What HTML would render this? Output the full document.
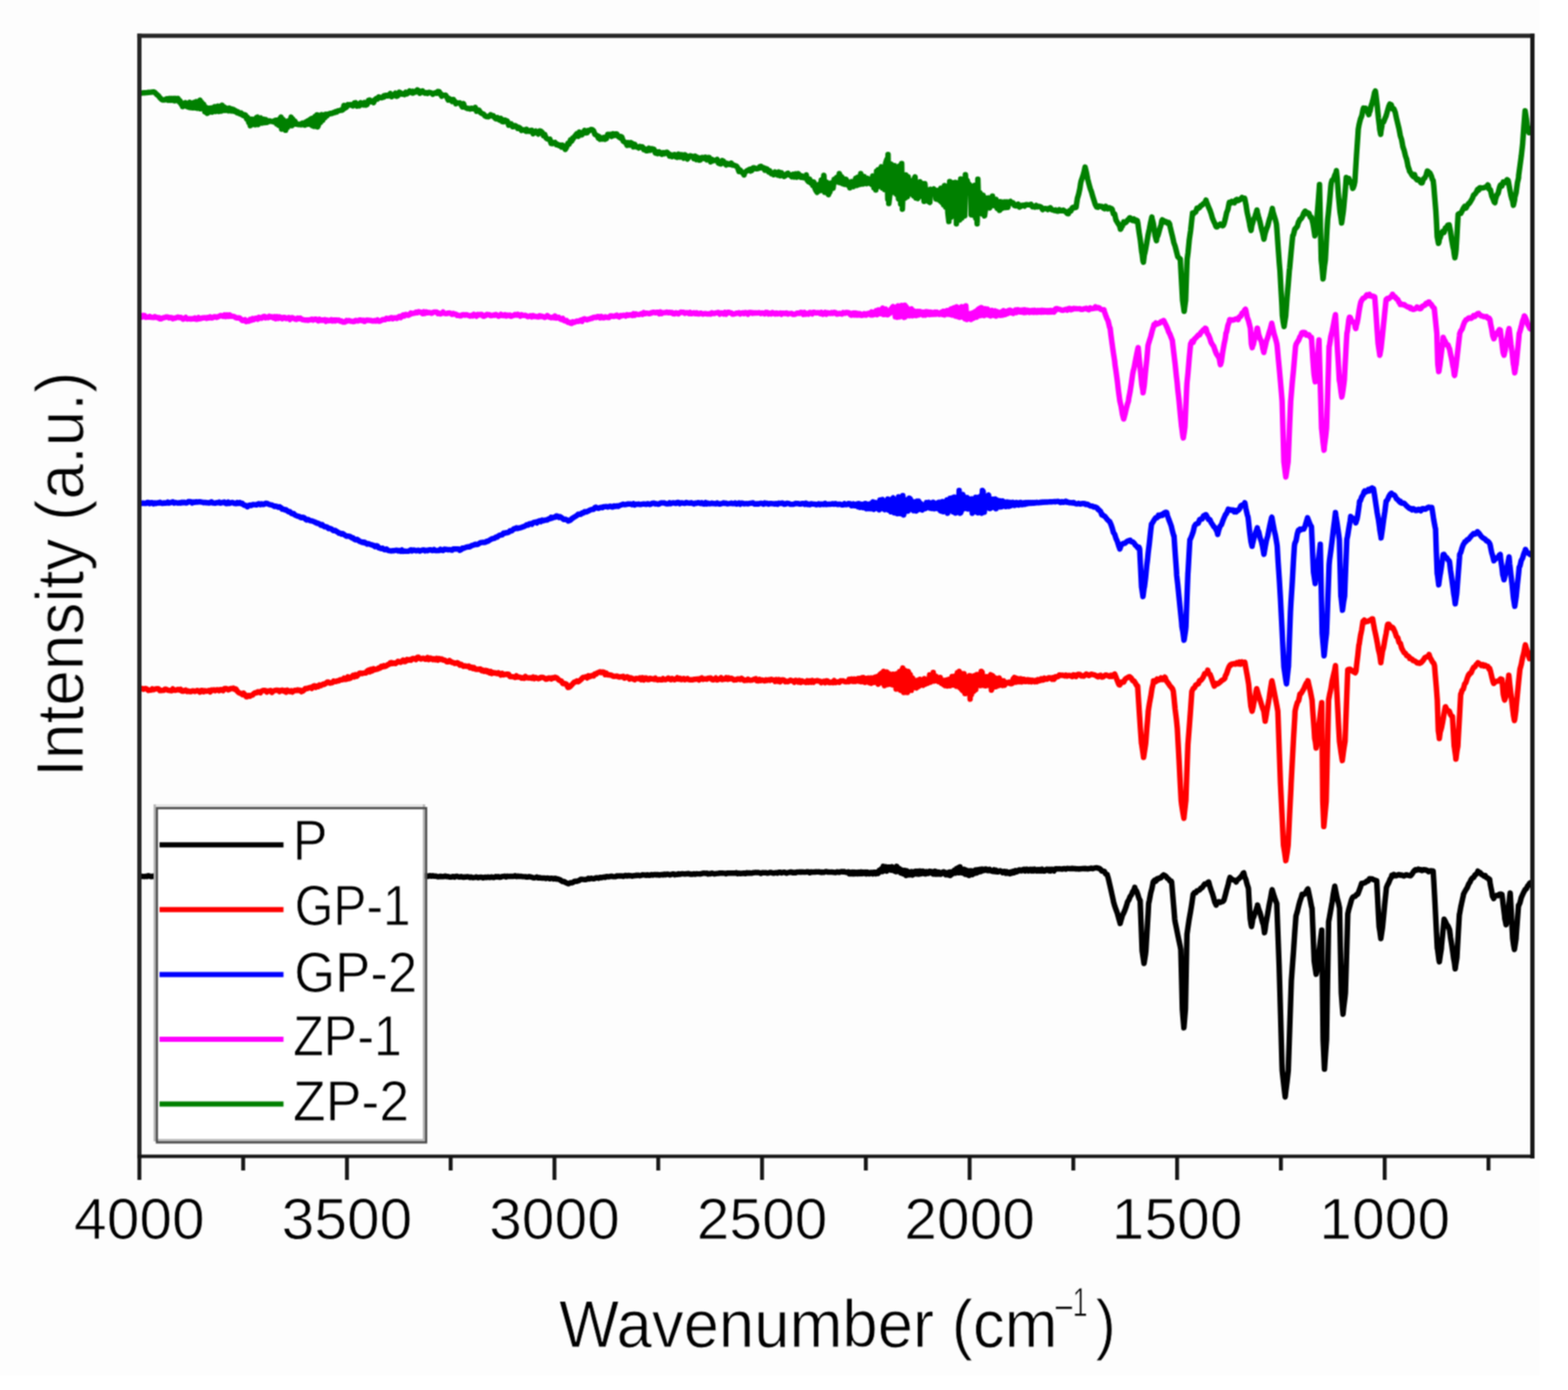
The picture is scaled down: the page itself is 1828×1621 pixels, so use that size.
<!DOCTYPE html>
<html><head><meta charset="utf-8"><title>FTIR spectra</title>
<style>
html,body{margin:0;padding:0;background:#fff;}
body{width:1828px;height:1621px;overflow:hidden;}
svg{display:block;}
</style></head>
<body>
<svg width="1828" height="1621" viewBox="0 0 1828 1621">
<rect x="0" y="0" width="1828" height="1621" fill="#ffffff"/>
<rect x="0" y="0" width="1795" height="1604" fill="#fdfdfd"/>
<defs><filter id="soft" color-interpolation-filters="sRGB" x="0" y="0" width="1828" height="1621" filterUnits="userSpaceOnUse"><feConvolveMatrix order="3" kernelMatrix="1 2 1 2 4 2 1 2 1" divisor="16" edgeMode="duplicate"/></filter><clipPath id="plot"><rect x="162.5" y="41.7" width="1624.0" height="1306.8999999999999"/></clipPath></defs>
<g filter="url(#soft)">
<g clip-path="url(#plot)" fill="none" stroke-width="6.4" stroke-linejoin="round" stroke-linecap="butt">
<path d="M162.5 108.8L163.8 108.7L165.0 108.6L166.2 108.4L167.5 108.3L168.8 108.2L170.0 108.1L171.2 108.0L172.5 107.8L173.8 107.7L175.0 107.6L176.2 107.5L177.5 107.3L178.8 107.1L180.0 107.5L181.2 108.5L182.5 110.0L183.8 110.9L185.0 112.1L186.2 113.7L187.5 115.0L188.8 116.3L190.0 116.5L191.2 116.6L192.5 116.4L193.8 115.4L195.0 115.2L196.2 116.9L197.5 115.0L198.8 116.9L200.0 114.8L201.2 116.8L202.5 114.8L203.8 117.5L205.0 114.9L206.2 116.8L207.5 114.9L208.8 118.7L210.0 117.7L211.2 121.7L212.1 120.2L212.9 124.3L213.8 123.5L215.0 123.2L216.2 119.8L217.5 124.0L218.8 124.6L220.0 125.1L221.2 119.3L222.5 125.5L223.8 125.3L225.0 125.8L226.2 119.6L227.5 125.8L228.8 118.6L230.0 126.3L231.2 125.8L232.5 117.3L233.1 116.9L233.9 126.9L235.0 119.2L236.2 126.7L237.5 121.7L238.8 130.4L240.0 125.1L240.9 126.1L241.8 132.2L242.5 126.1L243.8 126.5L245.0 130.6L246.2 125.9L247.5 130.7L248.8 129.7L250.0 124.4L251.2 130.1L252.5 124.9L253.8 123.9L255.0 130.0L256.2 129.7L257.5 123.8L258.1 129.6L258.9 122.8L260.0 128.9L261.2 124.5L262.5 128.8L263.8 126.1L265.0 128.8L266.2 129.2L267.5 126.1L268.8 129.3L270.0 127.1L271.2 129.5L272.5 128.0L273.8 130.0L275.0 129.4L276.2 131.3L277.5 130.6L278.8 132.3L280.0 132.9L281.2 131.8L282.5 134.2L283.8 134.8L285.0 133.8L286.2 134.2L287.5 138.7L288.8 137.0L290.0 142.9L290.9 139.2L291.8 146.6L292.5 139.1L293.8 139.0L295.0 145.0L296.2 139.2L297.5 145.6L298.8 137.3L300.1 136.6L300.9 145.3L301.2 143.5L302.5 138.2L303.8 137.6L305.0 143.6L306.2 143.4L307.5 139.0L308.8 142.9L310.0 139.5L311.2 142.8L312.5 142.1L313.8 140.9L315.0 141.1L316.2 141.6L317.5 141.6L318.8 142.2L320.0 140.8L321.2 140.4L322.5 144.4L323.8 140.1L325.0 146.2L326.2 139.2L327.6 136.6L328.4 150.6L328.8 140.1L330.0 139.4L331.2 148.3L332.5 141.7L332.9 151.9L333.8 141.8L335.0 148.9L336.2 141.1L337.5 146.3L338.8 140.0L339.4 136.6L340.4 146.6L341.2 138.7L342.5 144.9L343.8 141.3L345.0 144.8L346.2 144.3L347.5 145.4L348.8 145.3L350.0 144.7L351.2 145.5L352.5 143.7L353.8 145.4L355.0 145.9L356.2 142.5L357.5 145.1L358.8 141.1L360.0 144.6L361.2 139.7L362.5 138.6L363.8 146.6L365.0 137.7L366.2 147.4L367.5 135.7L368.8 147.4L369.6 133.9L370.4 148.0L371.2 145.8L372.5 134.9L373.8 142.8L375.0 133.6L376.2 140.4L377.5 133.9L378.8 137.3L380.0 133.3L381.2 135.1L382.5 132.9L383.8 133.1L385.0 132.1L386.2 132.5L387.5 132.1L388.8 131.2L390.0 131.3L391.2 130.2L392.5 130.6L393.8 129.4L395.0 129.1L396.2 128.8L397.5 128.4L398.8 128.5L400.0 127.6L401.0 122.9L402.5 125.8L404.0 124.9L405.5 122.0L407.0 122.6L408.5 121.9L408.7 122.1L410.0 122.8L411.5 123.5L413.0 120.2L414.5 119.8L416.0 123.7L417.5 121.8L419.0 123.4L420.5 119.7L420.8 122.1L422.0 121.5L423.5 122.3L425.0 119.5L426.5 122.5L428.0 121.8L429.5 117.1L431.0 116.7L432.5 118.7L434.0 118.0L435.5 119.6L437.0 116.4L438.5 115.0L440.0 115.5L441.5 113.1L443.0 113.5L444.5 114.0L446.0 113.7L447.5 111.9L447.8 113.1L449.0 111.5L450.5 111.2L452.0 112.0L453.5 110.8L455.0 109.2L456.5 112.8L458.0 111.1L459.5 111.2L461.0 108.7L462.0 110.0L462.5 112.3L464.0 111.4L465.5 107.5L467.0 108.3L468.5 109.9L470.0 109.5L471.5 110.3L473.0 107.6L474.5 109.3L476.0 108.2L477.5 106.2L479.0 107.3L480.5 108.4L480.9 106.5L482.0 108.3L483.5 106.8L485.0 107.3L486.5 104.8L488.0 105.9L489.5 108.7L491.0 107.0L492.5 106.0L494.0 108.0L495.5 108.8L497.0 108.0L498.5 108.9L500.0 107.6L501.5 108.0L503.0 108.5L504.5 109.9L506.0 108.7L507.5 108.2L509.0 108.8L510.5 106.7L512.0 106.9L513.5 110.1L514.0 109.2L515.0 112.1L516.5 111.1L518.0 111.1L519.5 110.9L521.0 113.4L522.5 116.6L523.0 114.6L524.0 116.4L525.5 116.0L527.0 118.3L528.5 116.0L530.0 118.1L531.5 121.0L533.0 119.9L534.5 120.1L536.0 120.0L537.5 122.0L539.0 124.7L540.5 120.9L541.1 123.6L542.0 125.2L543.5 125.9L545.0 126.6L546.5 126.4L548.0 127.2L549.5 126.2L551.0 126.9L552.5 126.7L554.0 125.3L555.5 129.7L556.1 128.1L557.0 129.1L558.5 128.5L560.0 131.1L561.5 132.2L563.0 132.7L564.5 133.8L565.2 135.1L566.0 135.4L567.5 136.0L569.0 136.2L570.5 135.6L572.0 133.8L573.5 135.0L575.0 134.9L576.5 137.1L578.0 138.6L579.5 138.5L580.2 137.2L581.0 139.1L582.5 140.1L584.0 138.2L585.5 141.9L587.0 142.0L588.5 140.0L590.0 140.6L591.5 141.4L593.0 145.9L594.5 144.3L596.0 144.5L597.5 147.8L598.3 147.7L599.0 147.2L600.5 146.4L602.0 147.4L603.5 149.7L605.0 148.5L606.5 149.6L608.0 152.2L609.5 151.5L611.0 151.4L612.5 152.7L613.3 153.1L614.0 150.9L615.5 152.8L617.0 153.2L618.5 152.2L620.0 152.0L621.5 156.0L623.0 154.3L624.5 153.0L626.0 155.1L627.5 156.3L629.0 152.6L630.5 152.8L631.3 155.2L632.0 154.1L633.5 158.2L635.0 156.8L636.5 160.7L638.0 161.9L639.5 162.5L641.0 162.3L642.5 167.2L643.4 165.7L644.0 167.4L645.5 166.8L647.0 166.1L648.5 168.8L650.0 168.3L651.5 169.8L653.0 169.3L654.5 171.5L656.0 169.5L657.5 171.3L658.4 172.7L659.0 174.2L660.5 171.8L662.0 167.2L663.5 168.0L665.0 163.4L666.5 164.6L667.5 161.2L668.0 162.1L669.5 159.6L671.0 157.9L672.5 155.8L674.0 159.0L675.5 154.1L676.0 156.0L677.0 157.1L678.5 157.2L680.0 154.7L681.5 152.2L683.0 155.0L684.5 154.9L685.5 152.2L686.0 153.1L687.5 151.9L689.0 151.0L690.0 151.4L690.5 151.3L692.0 152.5L693.5 156.7L695.0 157.5L696.5 158.3L697.5 161.0L698.0 159.2L699.5 162.3L701.0 160.9L702.3 162.2L702.5 162.1L704.0 160.5L705.5 162.4L707.0 161.7L708.5 156.7L710.0 156.9L711.5 156.7L713.0 159.1L714.5 156.0L716.0 157.9L717.5 156.2L719.0 156.1L720.5 158.9L722.0 160.1L723.5 161.1L723.7 159.1L725.0 160.0L726.5 164.5L728.0 165.4L729.5 166.3L729.8 166.8L731.0 169.5L732.5 166.3L734.0 169.1L735.5 166.4L737.0 167.3L738.5 171.3L740.0 168.3L741.5 171.4L743.0 171.1L744.5 172.6L746.0 170.8L747.5 171.1L748.0 172.0L749.0 171.3L750.5 174.5L752.0 173.7L753.5 175.8L755.0 175.9L756.5 172.8L758.0 175.2L759.5 173.5L761.0 173.6L762.5 174.2L764.0 178.5L765.5 178.6L766.6 177.5L767.0 179.2L768.5 177.1L770.0 178.7L771.5 179.8L773.0 178.1L774.5 179.3L776.0 177.9L777.5 177.5L779.0 178.7L780.5 182.0L782.0 180.7L783.5 182.7L785.0 180.8L786.5 180.2L788.0 182.9L789.5 183.4L791.0 179.7L791.1 182.1L792.5 183.1L794.0 180.4L795.5 180.7L797.0 184.5L798.5 180.6L800.0 181.7L801.5 185.5L803.0 182.9L804.5 181.6L806.0 182.0L807.5 182.5L809.0 185.0L810.5 182.1L812.0 186.1L813.5 183.7L815.0 186.7L816.5 186.6L818.0 183.7L819.5 183.7L821.0 184.9L821.7 185.1L822.5 183.3L824.0 186.3L825.5 183.7L827.0 183.8L828.5 188.8L830.0 185.8L831.5 187.5L833.0 187.1L834.5 186.8L836.0 185.9L837.5 190.3L839.0 190.8L840.5 191.2L842.0 187.3L843.5 188.1L845.0 190.4L846.5 192.4L848.0 190.6L849.5 191.6L851.0 191.8L852.4 191.3L852.5 190.2L854.0 192.6L855.5 192.5L857.0 193.3L858.5 193.6L860.0 195.6L861.5 200.0L863.0 198.5L864.5 200.5L866.0 201.5L867.5 204.0L867.7 202.0L869.0 200.7L870.5 199.4L872.0 198.6L873.5 197.6L875.0 199.3L876.0 197.0L876.5 198.8L878.0 195.8L879.5 195.8L881.0 196.7L882.5 196.7L884.0 196.6L885.5 194.7L886.1 195.9L887.0 194.0L888.5 195.6L890.0 195.4L891.5 198.3L893.0 196.6L894.5 197.2L896.0 200.5L897.5 199.4L899.0 202.4L900.5 201.6L901.4 202.0L902.0 203.8L903.5 200.6L905.0 202.4L906.5 204.0L908.0 200.7L909.5 205.0L911.0 201.5L912.5 204.5L914.0 205.7L915.5 205.1L917.0 202.8L918.5 202.0L920.0 204.0L921.5 204.2L923.0 206.2L924.5 203.3L926.0 206.3L927.5 202.8L929.0 206.6L930.5 202.5L932.0 204.0L933.5 206.9L935.0 206.6L935.1 205.1L936.5 207.3L938.0 207.3L939.5 207.1L940.0 204.0L941.2 210.3L942.5 211.7L943.8 208.9L945.0 213.3L946.2 211.7L947.5 216.3L948.8 212.4L950.0 219.4L951.2 222.1L952.6 224.3L953.5 215.5L955.0 215.0L956.2 222.3L957.5 210.0L958.8 210.3L960.0 208.6L960.5 204.4L961.5 224.3L962.5 220.4L963.8 212.4L965.0 225.8L965.9 226.9L966.8 215.5L967.5 224.2L968.8 213.5L970.0 213.7L971.2 219.6L972.5 209.2L973.8 210.2L975.0 207.2L976.2 206.5L977.5 212.5L978.5 202.4L978.8 203.1L980.0 213.1L981.2 206.1L982.5 214.3L983.8 208.7L985.0 215.1L986.2 209.1L987.5 211.6L988.8 216.2L990.0 213.6L990.8 219.0L991.6 212.9L992.5 212.0L993.8 216.5L995.0 217.5L996.2 214.7L997.5 208.0L998.8 216.3L1000.0 206.6L1001.2 215.2L1002.5 215.1L1003.5 202.4L1003.8 204.7L1005.0 214.3L1006.2 214.6L1007.5 206.0L1008.8 213.3L1010.0 214.1L1011.2 207.9L1012.5 213.5L1013.0 208.9L1014.0 213.8L1015.0 209.1L1016.2 215.0L1017.5 205.3L1018.8 218.9L1020.0 207.1L1021.0 221.6L1021.9 199.8L1022.5 218.2L1023.8 198.0L1025.0 216.4L1026.2 198.9L1027.5 194.5L1028.5 219.0L1028.8 197.0L1030.0 217.1L1031.2 221.0L1032.5 190.3L1033.8 186.1L1035.0 232.5L1035.3 180.1L1036.2 237.4L1037.5 226.3L1038.8 191.4L1040.0 219.7L1041.2 198.1L1042.0 224.3L1042.8 193.2L1043.8 222.7L1045.0 226.5L1046.2 197.8L1047.5 231.8L1048.8 193.4L1050.0 238.0L1051.2 190.6L1052.0 244.0L1052.5 230.7L1053.8 206.9L1055.0 231.1L1056.2 204.0L1057.5 208.6L1057.8 229.5L1058.7 206.3L1060.0 226.2L1061.2 212.2L1062.5 211.0L1063.8 226.2L1065.0 228.4L1066.2 207.5L1066.8 206.3L1067.8 230.8L1068.8 227.5L1070.0 231.6L1071.2 214.8L1072.5 212.0L1073.8 228.9L1075.0 217.1L1076.2 214.3L1077.3 234.8L1078.2 214.2L1078.8 219.7L1080.0 231.8L1081.2 221.8L1082.5 234.9L1084.0 236.1L1084.8 220.8L1086.2 221.7L1087.5 222.2L1088.8 220.5L1090.0 222.3L1091.2 232.2L1092.5 232.4L1093.8 221.9L1095.0 232.9L1096.2 234.4L1097.0 219.5L1098.0 236.1L1098.8 219.8L1100.0 238.9L1101.2 216.5L1102.5 241.5L1103.8 218.0L1105.0 248.1L1106.2 258.4L1107.2 211.6L1107.5 246.4L1108.8 253.3L1110.0 249.5L1111.2 213.2L1112.5 247.1L1113.8 212.8L1114.2 212.9L1115.0 261.0L1116.2 213.4L1117.5 214.0L1118.8 256.5L1120.0 208.8L1121.2 254.3L1122.5 212.2L1123.8 245.2L1124.7 251.8L1125.5 203.7L1126.2 213.9L1127.5 210.3L1128.8 216.3L1130.0 215.0L1131.2 216.8L1132.2 250.5L1132.5 226.7L1133.8 220.7L1135.0 250.8L1136.2 216.2L1137.5 254.5L1138.8 253.6L1139.2 261.0L1140.0 208.9L1141.2 249.2L1142.5 224.8L1143.8 228.1L1145.0 249.6L1146.2 227.8L1147.0 230.0L1147.8 251.8L1148.8 244.4L1150.0 231.1L1151.2 232.5L1152.5 230.8L1153.8 242.5L1155.0 231.7L1156.2 240.0L1157.0 228.6L1157.5 238.6L1158.8 232.1L1160.0 240.1L1161.2 232.5L1162.5 243.1L1163.8 243.7L1165.0 236.3L1165.3 245.3L1166.2 235.2L1167.5 243.5L1168.8 235.7L1170.0 242.3L1171.2 235.4L1172.5 242.1L1173.8 235.4L1175.0 241.8L1176.2 236.6L1176.5 236.3L1178.0 235.0L1179.5 236.8L1181.0 236.5L1182.5 239.5L1184.0 240.1L1185.0 240.0L1185.5 239.0L1187.0 238.0L1188.5 241.5L1190.0 240.7L1191.5 239.5L1193.0 239.3L1194.5 240.3L1195.5 238.8L1196.0 238.7L1197.5 238.8L1199.0 238.9L1200.5 238.9L1202.0 238.3L1203.5 241.1L1205.0 240.5L1206.5 241.4L1208.0 239.7L1209.5 241.2L1211.0 240.7L1212.5 240.9L1214.0 241.8L1215.5 244.4L1217.0 243.4L1218.5 243.2L1220.0 243.4L1221.5 244.4L1223.0 243.1L1224.5 242.3L1226.0 244.6L1227.5 244.7L1229.0 245.5L1230.5 244.8L1232.0 246.0L1233.5 246.3L1235.0 244.6L1236.5 245.8L1238.0 245.9L1239.5 245.1L1241.0 246.0L1241.5 246.4L1242.5 246.9L1244.0 248.8L1245.4 247.6L1245.5 249.2L1247.0 245.6L1248.5 246.0L1250.0 242.5L1251.5 241.6L1253.0 242.3L1254.3 241.3L1254.5 241.8L1256.0 231.5L1257.5 226.5L1259.0 219.5L1259.7 214.5L1260.5 210.8L1262.0 206.7L1263.5 201.8L1265.0 194.8L1266.5 200.9L1268.0 208.7L1269.5 214.5L1271.0 219.9L1272.5 223.8L1274.0 229.3L1275.5 234.0L1277.0 238.7L1278.5 241.3L1280.0 241.7L1281.5 240.3L1283.0 240.8L1284.5 240.8L1286.0 242.4L1287.5 243.3L1289.0 240.6L1290.5 243.3L1292.0 243.6L1293.5 242.3L1295.0 243.1L1295.5 243.1L1296.5 243.9L1298.0 249.3L1299.5 249.7L1301.0 256.6L1302.5 259.1L1304.0 261.5L1304.7 262.5L1305.5 264.1L1306.2 267.3L1307.0 266.4L1307.7 262.5L1308.5 263.6L1310.0 258.9L1311.5 260.1L1313.0 258.9L1314.5 256.8L1316.0 255.6L1317.0 253.9L1317.5 253.9L1319.0 256.4L1320.5 257.2L1322.0 255.4L1323.5 257.7L1325.0 256.8L1325.9 257.4L1326.5 260.2L1328.0 271.1L1329.5 280.6L1331.0 294.0L1331.4 295.3L1332.5 304.3L1333.0 305.8L1334.0 297.6L1334.6 295.3L1335.5 291.0L1337.0 282.6L1338.5 273.8L1340.0 266.9L1341.5 259.1L1342.9 253.0L1343.0 254.6L1344.5 260.3L1346.0 269.8L1346.7 275.2L1347.5 277.9L1348.2 280.7L1349.0 275.8L1349.7 275.2L1350.5 272.7L1352.0 267.1L1353.5 262.4L1354.5 257.4L1355.0 256.4L1356.5 257.3L1358.0 259.0L1359.5 258.5L1361.0 260.3L1362.5 259.6L1363.5 261.0L1364.0 263.7L1365.5 270.2L1367.0 276.3L1368.5 283.0L1370.0 287.3L1371.5 293.1L1372.4 296.8L1373.0 299.1L1374.5 300.9L1376.0 302.0L1377.5 329.7L1378.7 350.8L1379.0 352.5L1380.5 363.0L1382.0 351.7L1382.2 350.8L1383.5 314.5L1384.0 302.2L1385.0 294.9L1386.5 279.4L1388.0 269.1L1389.5 255.5L1390.3 248.5L1391.0 249.8L1392.5 247.7L1394.0 247.3L1395.5 242.7L1397.0 242.9L1398.5 242.0L1400.0 239.7L1401.5 239.2L1403.0 237.4L1404.5 236.8L1406.0 233.4L1406.4 235.1L1407.5 237.7L1409.0 241.6L1410.5 244.9L1412.0 249.2L1413.5 254.6L1415.0 258.1L1416.5 261.2L1417.4 263.5L1418.0 264.5L1418.9 264.6L1419.5 263.7L1420.4 263.5L1421.0 262.3L1422.5 261.3L1424.0 262.2L1425.5 263.3L1426.1 262.8L1427.0 260.9L1428.5 255.1L1430.0 248.1L1431.5 244.4L1433.0 236.6L1433.2 236.0L1434.5 237.0L1436.0 234.9L1437.5 235.9L1439.0 236.5L1440.5 233.4L1442.0 232.5L1443.5 233.9L1445.0 233.2L1446.5 232.1L1448.0 230.3L1449.5 231.5L1451.0 231.2L1451.1 231.5L1452.5 238.3L1454.0 247.9L1455.5 254.5L1456.8 260.9L1457.0 262.8L1458.3 268.2L1458.5 268.8L1459.8 260.9L1460.0 261.3L1461.5 256.0L1463.0 252.7L1464.5 248.0L1465.4 244.9L1466.0 247.9L1467.5 254.0L1469.0 259.2L1470.5 266.2L1472.0 271.7L1473.5 278.9L1475.0 271.7L1476.5 267.1L1478.0 263.1L1479.5 257.3L1481.0 252.4L1482.5 246.9L1483.3 243.1L1484.0 247.0L1485.5 251.9L1487.0 256.6L1488.1 261.4L1488.5 265.8L1490.0 287.4L1491.5 307.9L1492.2 315.7L1493.0 330.5L1494.5 356.4L1495.0 367.8L1496.0 375.5L1497.0 380.8L1497.5 377.4L1499.0 367.8L1499.0 367.1L1500.5 346.5L1502.0 329.6L1503.1 315.7L1503.5 312.6L1505.0 296.1L1506.5 280.5L1507.1 275.0L1508.0 273.5L1509.5 267.3L1511.0 265.7L1512.5 263.8L1513.9 258.7L1514.0 259.3L1515.5 255.9L1517.0 254.8L1518.5 252.3L1520.0 248.5L1521.5 246.2L1522.1 246.5L1523.0 249.0L1524.5 248.0L1526.0 248.8L1527.5 253.3L1528.8 253.3L1529.0 254.2L1530.5 260.0L1531.1 263.1L1532.0 269.0L1532.9 275.0L1533.5 271.9L1534.7 263.1L1535.0 257.6L1536.5 239.7L1538.0 220.1L1538.3 215.3L1539.5 268.0L1540.3 303.2L1541.0 309.3L1542.4 325.2L1542.5 324.8L1544.0 311.1L1545.1 303.2L1545.5 296.5L1547.0 268.7L1547.8 256.0L1548.5 250.0L1550.0 234.9L1551.5 217.3L1551.9 213.9L1553.0 210.1L1554.5 209.4L1556.0 204.7L1557.5 201.6L1558.0 199.0L1559.0 208.6L1560.5 229.2L1562.0 245.2L1562.3 247.8L1563.5 255.3L1564.1 260.0L1565.0 253.7L1565.9 247.8L1566.5 242.5L1568.0 226.0L1569.5 207.0L1569.6 207.1L1571.0 208.8L1572.5 208.3L1574.0 212.8L1575.3 212.1L1575.5 212.4L1577.0 219.7L1577.4 219.5L1578.5 216.5L1579.5 212.1L1580.0 204.4L1581.5 180.1L1583.0 158.2L1583.5 150.5L1584.5 145.0L1586.0 139.0L1587.5 135.3L1589.0 127.9L1589.6 126.0L1590.5 127.6L1592.0 126.5L1593.5 129.4L1594.3 129.1L1595.0 132.1L1595.8 133.7L1596.5 130.8L1597.3 129.1L1598.0 124.9L1599.5 120.4L1601.0 115.1L1602.5 107.9L1603.4 106.1L1604.0 110.0L1605.5 122.5L1607.0 137.6L1608.1 146.6L1608.5 150.9L1609.6 156.7L1610.0 152.9L1611.1 146.6L1611.5 143.7L1613.0 142.2L1614.5 138.6L1616.0 135.0L1617.5 129.5L1619.0 124.3L1620.3 121.4L1620.5 123.1L1622.0 122.4L1623.5 127.0L1625.0 126.9L1626.4 130.6L1626.5 130.7L1628.0 137.8L1629.5 144.1L1631.0 150.1L1632.5 158.2L1634.0 162.9L1635.5 171.1L1637.0 175.5L1638.5 181.7L1640.0 186.1L1641.5 193.9L1643.0 198.1L1643.2 199.6L1644.5 201.3L1646.0 204.0L1647.5 205.8L1649.0 203.5L1650.5 208.0L1652.0 209.8L1653.5 209.1L1655.0 210.8L1656.5 213.1L1657.0 213.3L1658.0 213.2L1659.5 208.5L1661.0 207.7L1662.5 204.5L1664.0 199.5L1664.7 199.6L1665.5 202.7L1667.0 201.7L1668.5 204.8L1670.0 209.6L1670.8 210.3L1671.5 216.5L1673.0 234.8L1673.9 245.5L1674.5 255.5L1675.5 276.1L1676.0 278.5L1677.0 283.8L1677.5 282.6L1678.5 276.1L1679.0 277.1L1680.5 271.7L1682.0 269.9L1683.5 271.1L1685.0 266.0L1686.5 265.0L1688.0 262.4L1689.2 262.4L1689.5 262.3L1691.0 269.9L1692.5 280.2L1694.0 288.4L1694.6 290.5L1695.5 297.3L1696.1 300.6L1697.0 296.0L1697.6 290.4L1698.5 275.5L1699.9 250.1L1700.0 249.6L1701.5 249.0L1703.0 248.9L1704.5 246.1L1706.0 243.0L1707.5 240.7L1709.0 242.7L1710.5 239.9L1712.0 237.4L1712.2 237.8L1713.5 236.3L1715.0 233.8L1716.5 231.4L1718.0 227.3L1719.5 226.3L1721.0 224.3L1722.5 221.1L1724.0 221.6L1724.4 219.5L1725.5 218.9L1727.0 219.4L1728.5 219.2L1730.0 218.9L1731.5 218.3L1733.0 218.0L1734.5 215.6L1735.1 216.4L1736.0 220.6L1737.5 221.2L1739.0 228.2L1740.5 231.8L1742.0 235.6L1742.8 236.3L1743.5 232.2L1745.0 227.5L1746.5 225.5L1748.0 219.2L1748.9 216.4L1749.5 215.5L1751.0 216.9L1752.5 212.2L1754.0 213.1L1755.5 211.8L1757.0 209.5L1758.1 210.3L1758.5 211.8L1760.0 220.3L1761.5 228.2L1762.8 233.0L1763.0 231.9L1764.3 239.4L1764.5 238.6L1765.8 233.0L1766.0 230.2L1767.5 224.6L1769.0 213.4L1770.4 207.2L1770.5 204.5L1772.0 193.4L1773.5 182.3L1775.0 168.9L1776.5 148.3L1778.0 129.1L1779.5 138.4L1781.0 151.9L1781.1 151.4L1782.5 154.7L1782.6 153.6L1784.0 153.0L1784.1 151.4L1785.5 149.6L1786.0 150.0" stroke="#008000"/>
<path d="M162.5 368.5L164.0 369.7L165.5 369.8L167.0 367.8L168.5 368.0L170.0 370.0L171.5 369.9L173.0 369.9L174.5 369.1L176.0 370.0L177.5 370.1L179.0 370.2L180.5 369.3L182.0 370.1L183.5 370.2L185.0 371.1L185.6 370.6L186.5 371.8L188.0 371.7L189.5 370.8L191.0 370.5L192.5 370.1L194.0 369.6L195.5 369.6L197.0 370.7L198.5 370.3L200.0 370.5L201.5 371.7L203.0 370.9L204.5 371.0L206.0 370.2L207.5 369.7L209.0 370.5L210.5 370.1L212.0 371.0L213.5 372.2L215.0 371.4L216.5 370.2L218.0 372.0L219.5 371.8L221.0 371.6L222.5 372.1L224.0 371.7L225.5 371.8L227.0 370.8L228.5 372.3L230.0 372.3L231.5 370.4L231.6 371.2L233.0 371.7L234.5 371.4L236.0 370.7L237.5 370.7L239.0 370.5L240.5 371.3L242.0 370.2L243.5 370.8L245.0 369.5L246.5 370.7L248.0 370.6L249.5 369.4L251.0 369.5L252.5 370.2L254.0 369.5L255.5 368.8L257.0 368.0L258.5 368.1L260.0 368.9L261.5 367.5L263.0 369.1L264.5 367.4L266.0 368.8L267.5 367.2L268.4 367.6L269.0 368.9L270.5 368.9L272.0 368.9L273.5 369.5L275.0 370.4L276.5 370.8L278.0 370.7L279.5 371.0L281.0 372.2L282.5 373.8L284.0 373.6L285.5 372.8L286.7 374.3L287.0 375.0L288.5 374.5L290.0 374.6L291.5 372.5L293.0 373.5L294.5 371.6L296.0 372.7L297.5 371.4L299.0 371.0L300.5 372.2L302.0 370.1L303.5 370.8L305.0 371.2L306.5 369.5L308.0 369.0L308.2 369.7L309.5 370.7L311.0 369.7L312.5 370.5L314.0 368.9L315.5 369.8L317.0 369.4L318.5 370.7L320.0 369.4L321.5 371.6L323.0 369.4L324.5 371.2L326.0 369.6L327.5 370.2L329.0 371.7L330.5 370.2L332.0 370.3L333.5 371.6L335.0 371.0L336.5 370.3L338.0 372.6L339.5 370.7L341.0 370.5L342.5 371.3L344.0 372.1L345.5 372.5L347.0 371.0L348.5 371.7L350.0 371.0L351.1 372.2L351.5 372.1L353.0 372.9L354.5 373.0L356.0 373.4L357.5 373.2L359.0 373.5L360.5 373.2L362.0 372.7L363.5 372.2L365.0 373.3L366.5 372.6L368.0 372.1L369.5 373.0L371.0 374.1L372.5 372.4L374.0 373.6L375.5 373.2L377.0 373.6L378.5 372.8L380.0 374.8L381.5 373.2L383.0 374.1L384.5 373.8L386.0 372.9L387.5 374.3L389.0 373.3L390.5 373.2L390.9 374.3L392.0 373.2L393.5 373.5L395.0 373.3L396.5 374.6L398.0 374.3L399.5 375.5L401.0 375.3L402.5 375.5L404.0 373.7L405.5 374.2L407.0 373.7L408.5 374.5L410.0 374.6L411.5 375.0L413.0 374.8L414.5 373.7L416.0 374.1L417.5 374.4L419.0 373.1L420.5 373.2L422.0 374.1L423.5 373.4L425.0 374.8L426.5 373.7L428.0 373.3L429.5 373.5L431.0 373.7L432.5 373.6L434.0 374.3L435.5 374.2L436.9 374.3L437.0 373.8L438.5 374.4L440.0 373.1L441.5 374.6L443.0 374.5L444.5 373.7L446.0 372.8L447.5 372.7L449.0 372.7L450.5 371.2L452.0 371.8L453.5 371.9L455.0 370.8L456.5 370.4L458.0 371.8L459.5 370.6L461.0 370.7L461.4 370.6L462.5 371.3L464.0 370.2L465.5 369.1L467.0 370.4L468.5 368.5L470.0 367.3L471.5 368.5L473.0 366.8L474.5 366.9L476.0 367.8L477.5 367.0L479.0 365.1L480.5 365.7L482.0 365.3L483.5 365.1L485.0 364.0L485.9 364.5L486.5 364.7L488.0 363.5L489.5 364.0L491.0 364.3L492.5 365.7L494.0 363.6L495.5 365.3L497.0 363.9L498.5 364.9L500.0 364.5L501.5 364.7L503.0 365.4L504.5 364.6L506.0 363.9L507.5 363.9L509.0 363.9L510.5 365.7L512.0 365.3L513.5 366.1L515.0 365.4L516.5 363.9L518.0 365.4L519.5 365.7L521.0 365.6L522.5 365.1L522.6 365.1L524.0 365.0L525.5 365.5L527.0 366.5L528.5 365.5L530.0 366.4L531.5 366.5L533.0 367.9L534.5 367.8L536.0 368.3L537.5 368.3L538.0 367.6L539.0 367.1L540.5 367.0L542.0 367.6L543.5 367.0L545.0 367.4L546.5 368.0L548.0 368.6L549.5 367.8L551.0 368.4L552.5 366.6L554.0 367.3L555.5 368.8L557.0 366.8L558.5 367.4L560.0 366.6L561.5 366.6L563.0 368.5L564.5 368.8L566.0 368.0L567.5 366.7L569.0 367.1L570.5 367.0L572.0 368.0L573.5 368.0L575.0 367.5L576.5 367.7L578.0 366.7L579.5 367.7L581.0 368.7L582.5 368.2L584.0 366.6L585.5 367.6L587.0 368.1L588.5 367.0L590.0 368.5L591.5 367.5L593.0 368.1L594.5 367.4L596.0 368.8L597.5 368.3L599.0 367.8L600.5 366.7L602.0 367.5L603.5 366.5L605.0 367.8L605.4 367.6L606.5 368.6L608.0 367.0L609.5 367.8L611.0 367.9L612.5 367.7L614.0 368.6L615.5 369.2L617.0 368.7L618.5 368.2L620.0 369.5L621.5 368.0L623.0 369.1L624.5 369.0L626.0 369.3L627.5 369.6L629.0 368.2L630.5 369.2L632.0 368.8L633.5 369.5L635.0 370.3L636.5 369.5L638.0 368.1L639.5 369.3L641.0 370.0L642.5 370.5L644.0 370.0L645.5 370.5L647.0 368.6L648.5 370.9L650.0 370.5L651.3 370.0L651.5 370.4L653.0 371.8L654.5 372.5L656.0 371.4L657.5 373.8L659.0 374.4L660.5 373.8L662.0 375.9L663.5 376.2L665.0 376.0L665.1 376.8L666.5 377.2L668.0 375.2L669.5 376.0L671.0 375.2L672.5 374.4L674.0 374.8L675.5 374.2L677.0 373.3L678.5 374.7L680.0 372.2L681.5 371.7L683.0 372.5L684.5 373.0L686.0 372.2L687.5 372.1L689.0 371.1L690.5 371.2L691.1 370.6L692.0 370.1L693.5 369.9L695.0 370.4L696.5 369.1L698.0 369.2L699.5 370.7L701.0 369.2L702.5 370.5L704.0 370.5L705.5 369.5L707.0 370.0L708.5 370.2L710.0 370.3L711.5 368.4L713.0 368.4L714.5 368.8L715.0 369.1L716.0 368.9L717.5 368.4L719.0 367.6L719.7 368.7L720.5 368.8L722.0 369.6L723.5 368.0L725.0 368.3L726.5 367.7L728.0 367.7L729.5 368.6L731.0 367.1L732.5 367.8L734.0 367.2L735.5 367.2L737.0 368.0L738.5 365.8L740.0 367.5L741.5 366.1L743.0 366.7L744.5 366.9L746.0 366.5L747.5 365.7L749.0 366.6L750.5 364.7L752.0 365.8L753.5 365.1L755.0 365.3L756.5 365.9L758.0 365.6L759.0 364.8L759.5 365.1L761.0 364.3L762.5 364.2L764.0 364.7L765.5 364.2L767.0 364.3L768.5 365.9L770.0 363.9L771.5 365.6L773.0 364.6L774.5 364.6L776.0 364.5L777.5 363.9L779.0 364.8L780.5 364.1L782.0 364.8L783.5 364.4L785.0 365.9L786.5 366.0L788.0 364.8L789.5 365.3L791.0 366.0L792.5 364.6L794.0 364.0L795.5 364.4L797.0 364.2L798.5 365.4L800.0 364.7L801.5 364.7L803.0 365.7L804.5 364.4L806.0 365.8L807.5 365.4L809.0 364.8L810.5 365.8L812.0 364.7L813.5 366.0L815.0 366.1L816.5 365.1L818.0 365.6L819.5 366.2L821.0 365.7L822.5 365.7L824.0 366.0L825.5 366.2L827.0 365.8L828.5 366.3L830.0 364.7L831.5 365.5L833.0 365.6L834.5 364.9L836.0 364.9L837.5 364.4L839.0 366.3L840.5 364.9L842.0 365.2L843.5 366.2L845.0 364.5L846.5 366.3L848.0 364.4L849.5 364.1L851.0 364.9L852.5 364.9L854.0 366.3L855.5 366.2L857.0 365.9L858.5 365.2L860.0 365.4L861.5 364.7L863.0 366.1L864.5 365.1L866.0 364.8L867.5 365.7L869.0 364.5L870.5 364.9L872.0 366.4L873.5 364.4L875.0 364.5L876.5 364.7L877.2 365.4L878.0 364.8L879.5 365.2L881.0 364.8L882.5 365.0L884.0 364.8L885.5 364.8L887.0 365.7L888.5 365.0L890.0 365.1L891.5 366.0L893.0 364.3L894.5 364.5L896.0 366.2L897.5 365.2L899.0 366.1L900.5 364.5L902.0 365.5L903.5 366.2L905.0 365.0L906.5 366.0L908.0 365.7L909.5 365.1L911.0 366.6L912.5 365.1L914.0 365.3L915.5 365.7L917.0 365.0L918.5 366.2L920.0 365.6L921.5 365.6L923.0 365.5L924.5 366.6L926.0 366.6L927.5 366.2L929.0 365.3L930.5 365.2L932.0 365.5L933.5 364.3L935.0 364.5L936.5 366.6L938.0 364.5L939.5 366.4L941.0 365.8L942.5 366.4L944.0 364.4L945.5 364.9L947.0 366.1L948.5 364.2L950.0 364.5L951.5 365.0L953.0 364.6L954.5 364.6L956.0 365.8L957.5 364.4L959.0 366.5L960.5 365.8L962.0 364.3L963.5 366.4L965.0 364.8L966.5 365.4L968.0 365.5L969.5 364.5L971.0 365.4L972.5 364.3L974.0 364.7L975.5 366.4L977.0 366.2L978.5 365.5L980.0 365.8L981.5 366.3L983.0 364.5L984.5 365.4L985.5 365.4L986.0 364.5L987.5 364.5L989.0 364.6L990.0 364.8L991.2 366.9L992.5 367.5L993.8 365.3L995.0 365.0L996.2 367.4L997.5 365.1L998.8 367.4L1000.0 365.5L1001.2 367.4L1002.5 365.8L1003.8 367.8L1005.0 367.7L1006.2 367.4L1007.5 365.8L1008.8 367.4L1010.0 367.5L1011.2 365.7L1012.5 365.8L1013.8 365.0L1015.0 367.2L1016.2 363.7L1017.5 367.3L1018.8 366.8L1020.0 366.0L1021.2 362.6L1022.5 366.9L1023.8 361.4L1025.0 365.2L1026.2 365.6L1027.5 361.5L1029.0 359.3L1029.8 366.7L1031.2 366.7L1032.5 360.4L1033.8 366.8L1035.0 367.1L1036.2 365.9L1037.5 365.3L1038.8 360.4L1040.0 358.8L1041.2 357.5L1042.5 358.2L1043.8 369.4L1045.0 359.4L1046.0 370.0L1047.0 356.6L1047.5 357.6L1048.8 369.6L1050.0 366.9L1051.2 356.3L1052.5 368.4L1053.8 370.0L1054.8 356.0L1055.0 369.8L1056.2 357.4L1057.5 359.4L1058.8 360.7L1060.0 368.2L1061.2 368.1L1062.5 360.2L1063.8 368.3L1065.0 362.4L1066.2 367.0L1067.5 363.3L1068.3 368.0L1069.2 363.2L1070.0 363.3L1071.2 367.2L1072.5 363.3L1073.8 366.5L1075.0 364.0L1076.2 367.4L1077.5 364.1L1078.8 367.4L1080.0 363.6L1081.2 366.6L1082.5 363.8L1083.8 366.9L1085.0 364.0L1086.2 366.7L1087.5 364.5L1088.8 366.5L1090.0 364.0L1091.2 366.3L1092.5 364.2L1093.8 366.1L1095.0 366.7L1096.2 366.1L1097.5 364.0L1098.8 366.6L1100.0 363.0L1101.2 367.3L1102.5 363.6L1103.8 362.3L1105.0 366.4L1106.2 362.0L1107.5 366.7L1108.8 360.3L1110.0 367.4L1111.2 359.5L1112.5 358.9L1113.8 368.6L1115.0 359.2L1115.5 357.9L1116.5 369.3L1117.5 360.8L1118.8 370.0L1120.0 369.0L1121.2 357.7L1122.5 369.7L1123.8 360.2L1125.0 371.6L1126.0 356.6L1127.0 372.6L1127.5 372.5L1128.8 371.3L1130.0 370.5L1131.3 365.8L1132.2 372.6L1132.5 371.6L1133.8 365.1L1135.0 371.0L1136.2 363.8L1137.5 363.1L1138.8 369.9L1140.0 361.2L1141.2 360.1L1142.5 368.1L1143.2 368.0L1144.0 358.6L1145.0 366.4L1146.2 359.9L1147.5 368.0L1148.8 360.1L1150.0 367.0L1151.2 360.4L1152.5 367.4L1153.8 363.0L1155.0 368.4L1156.2 362.0L1157.5 363.6L1158.8 367.8L1160.0 363.2L1160.2 362.5L1161.2 368.7L1162.5 363.4L1163.8 367.0L1165.0 367.3L1166.2 367.8L1167.5 363.8L1168.8 367.4L1170.0 362.3L1171.2 367.0L1172.5 366.5L1173.8 363.0L1175.0 365.6L1176.2 361.9L1177.5 361.8L1178.8 364.7L1180.0 362.8L1181.2 365.5L1182.5 364.4L1183.8 361.6L1185.0 364.5L1186.2 361.3L1187.5 361.4L1188.8 363.7L1190.0 361.9L1191.2 364.0L1192.5 361.6L1193.8 364.5L1195.0 361.4L1196.2 364.3L1197.5 361.7L1198.8 362.1L1200.0 364.3L1201.2 362.3L1202.5 363.8L1203.8 362.1L1205.0 364.2L1206.2 361.9L1207.5 364.1L1208.8 364.2L1210.0 362.2L1211.2 363.9L1212.5 362.1L1213.8 364.1L1215.0 361.9L1216.2 363.9L1217.5 362.1L1218.8 363.7L1220.0 362.4L1221.2 363.9L1222.5 362.4L1223.8 363.8L1225.0 362.2L1226.2 363.8L1227.5 362.4L1228.8 363.8L1230.0 362.6L1230.5 360.4L1232.0 359.9L1233.5 360.3L1235.0 360.6L1236.5 361.2L1238.0 361.7L1239.5 361.8L1241.0 361.3L1242.5 360.7L1244.0 361.7L1245.5 359.8L1247.0 359.6L1248.5 361.3L1250.0 360.8L1251.5 359.7L1253.0 360.1L1254.5 359.9L1256.0 360.1L1257.5 360.1L1259.0 360.0L1260.5 360.9L1262.0 360.9L1263.5 360.2L1265.0 360.0L1266.5 359.5L1268.0 360.6L1269.5 361.1L1270.0 359.9L1271.0 359.1L1272.5 360.1L1274.0 359.9L1275.5 359.6L1277.0 357.9L1277.6 358.9L1278.5 359.3L1280.0 358.6L1281.5 359.0L1283.0 360.5L1284.5 361.1L1286.0 361.4L1287.1 361.3L1287.5 363.2L1289.0 367.6L1290.5 371.5L1292.0 374.7L1293.5 381.4L1294.2 382.7L1295.0 389.6L1296.5 400.9L1298.0 411.4L1299.5 420.9L1299.9 425.3L1301.0 432.6L1302.5 443.6L1304.0 456.4L1305.5 467.4L1305.6 468.0L1307.0 473.7L1308.5 483.1L1309.8 487.9L1310.0 488.6L1311.5 483.2L1313.0 476.6L1314.5 470.9L1315.5 468.0L1316.0 464.0L1317.5 456.5L1319.0 446.7L1320.5 436.1L1321.2 432.4L1322.0 429.8L1323.5 421.7L1325.0 414.1L1326.5 407.0L1326.9 405.4L1328.0 417.3L1329.5 431.9L1331.0 447.2L1331.0 447.8L1332.5 456.2L1332.6 458.0L1334.0 449.3L1334.2 447.2L1335.5 433.0L1337.0 419.0L1338.3 404.0L1338.5 402.4L1340.0 397.4L1341.5 392.6L1343.0 386.7L1344.5 381.7L1345.4 378.4L1346.0 379.4L1347.5 376.7L1349.0 377.9L1350.5 377.1L1352.0 376.8L1353.5 375.2L1355.0 374.6L1356.5 373.8L1356.8 374.1L1358.0 376.8L1359.5 379.6L1361.0 382.8L1362.5 387.2L1364.0 389.8L1365.5 394.0L1366.7 396.9L1367.0 399.7L1368.5 412.1L1370.0 424.7L1371.5 439.2L1372.4 446.7L1373.0 453.7L1374.5 466.6L1376.0 482.6L1377.5 497.6L1377.6 497.9L1379.0 508.5L1379.5 510.7L1380.5 504.6L1381.4 497.9L1382.0 484.8L1383.5 452.3L1383.8 446.7L1385.0 434.7L1386.5 416.8L1388.0 401.2L1389.5 398.1L1391.0 399.1L1392.5 395.4L1394.0 394.1L1395.5 392.5L1397.0 390.7L1398.5 390.5L1400.0 387.7L1401.5 386.4L1403.0 384.7L1404.5 384.3L1405.1 382.7L1406.0 383.4L1407.5 388.7L1409.0 390.9L1410.5 394.6L1412.0 399.5L1412.2 399.7L1413.5 401.9L1415.0 403.9L1416.5 408.5L1418.0 412.4L1419.5 414.6L1421.0 417.1L1421.4 417.9L1422.5 424.2L1422.9 425.3L1424.0 421.1L1424.4 417.9L1425.5 410.2L1427.0 401.7L1428.5 394.6L1429.3 388.4L1430.0 387.1L1431.5 379.5L1433.0 375.5L1433.6 372.7L1434.5 373.8L1436.0 373.0L1437.5 373.3L1439.0 372.8L1440.5 371.9L1442.0 371.8L1443.5 372.7L1445.0 369.3L1446.5 368.9L1448.0 365.2L1449.5 364.5L1451.0 361.7L1452.0 360.6L1452.5 362.3L1454.0 369.8L1455.5 373.8L1457.0 379.9L1457.7 382.7L1458.5 395.5L1458.8 400.9L1459.9 405.4L1460.0 404.2L1461.4 400.9L1461.5 399.6L1463.0 394.0L1464.5 388.4L1465.6 382.7L1466.0 382.8L1467.5 390.5L1469.0 394.9L1470.5 398.1L1471.9 404.3L1472.0 405.4L1473.4 411.1L1473.5 410.3L1474.9 404.3L1475.0 404.0L1476.5 397.4L1478.0 393.3L1479.5 388.0L1481.0 383.5L1482.5 377.6L1482.6 377.0L1484.0 383.5L1485.5 389.9L1487.0 394.7L1488.5 400.5L1489.0 404.0L1490.0 415.2L1491.5 431.0L1493.0 447.8L1494.5 465.2L1494.7 468.0L1496.0 510.8L1496.8 538.6L1497.5 544.2L1499.0 556.2L1500.5 546.6L1501.7 538.5L1502.0 531.7L1503.5 494.5L1504.7 468.0L1505.0 464.8L1506.5 446.5L1508.0 431.5L1509.5 413.9L1510.4 404.0L1511.0 401.6L1512.5 398.8L1514.0 396.6L1515.5 392.7L1517.0 390.8L1517.5 388.4L1518.5 387.6L1520.0 387.6L1521.5 388.1L1523.0 390.9L1524.5 390.9L1526.0 390.4L1527.5 393.4L1528.9 393.5L1529.0 394.5L1530.5 418.1L1531.8 434.9L1532.0 436.9L1533.3 445.2L1533.5 444.8L1534.8 434.9L1535.0 434.0L1536.5 412.7L1537.7 396.5L1538.0 408.4L1539.5 457.8L1540.7 499.3L1541.0 501.9L1542.5 516.4L1543.6 525.0L1544.0 520.0L1545.5 509.0L1546.5 499.3L1547.0 486.2L1548.5 436.9L1549.5 403.9L1550.0 402.5L1551.5 392.6L1553.0 386.5L1554.5 379.2L1556.0 371.2L1556.9 366.9L1557.5 376.9L1559.0 403.5L1560.5 427.1L1561.4 443.7L1562.0 446.2L1563.5 457.8L1564.3 462.9L1565.0 459.6L1566.5 449.2L1567.2 443.7L1568.0 429.4L1569.5 401.1L1570.2 389.1L1571.0 385.2L1572.5 373.0L1573.2 369.9L1574.0 370.1L1575.5 373.5L1577.0 375.7L1578.5 376.0L1579.1 377.0L1580.0 381.9L1580.6 383.2L1581.5 378.3L1582.1 377.0L1583.0 372.2L1584.5 362.2L1586.0 354.2L1586.5 352.2L1587.5 350.2L1589.0 347.9L1590.5 347.5L1592.0 346.1L1593.5 343.8L1593.9 344.0L1595.0 344.7L1596.5 343.3L1598.0 345.1L1599.5 345.5L1601.0 345.5L1602.5 347.4L1602.7 346.2L1604.0 363.4L1605.5 385.4L1606.6 400.6L1607.0 403.4L1608.5 413.2L1608.6 414.2L1610.0 406.3L1610.6 400.6L1611.5 392.6L1613.0 378.0L1614.5 363.4L1616.0 349.2L1617.5 348.0L1619.0 348.4L1620.5 346.9L1622.0 345.4L1623.4 344.0L1623.5 343.1L1625.0 346.0L1626.5 346.2L1628.0 348.5L1629.5 349.1L1631.0 352.8L1632.3 353.6L1632.5 355.1L1634.0 354.9L1635.5 355.4L1637.0 355.2L1638.5 356.5L1640.0 357.3L1641.5 358.0L1643.0 358.3L1644.1 359.5L1644.5 358.7L1646.0 360.3L1647.5 360.9L1649.0 360.5L1650.5 359.9L1652.0 358.1L1653.5 358.9L1654.4 359.5L1655.0 360.1L1656.5 359.6L1658.0 357.4L1659.5 356.6L1661.0 356.0L1662.5 353.7L1664.0 354.2L1665.5 352.2L1666.2 352.2L1667.0 354.2L1668.5 354.9L1670.0 357.4L1671.5 358.9L1672.1 359.5L1673.0 368.5L1674.5 383.1L1675.1 389.1L1676.0 419.5L1676.2 424.5L1677.3 433.4L1677.5 433.0L1678.8 424.5L1679.0 422.6L1680.5 410.3L1682.0 398.9L1682.5 393.5L1683.5 396.0L1685.0 398.5L1686.5 402.1L1688.0 402.2L1689.5 406.4L1689.9 406.8L1691.0 412.5L1692.5 419.2L1694.0 428.0L1694.3 428.1L1695.5 437.3L1695.8 437.8L1697.0 429.7L1697.3 428.1L1698.5 417.8L1700.0 404.9L1701.5 391.5L1701.7 389.1L1703.0 385.8L1704.5 383.8L1706.0 379.2L1707.5 375.3L1709.0 373.5L1709.1 372.8L1710.5 372.6L1712.0 371.1L1713.5 370.6L1715.0 371.3L1716.5 370.0L1718.0 368.1L1719.5 368.9L1721.0 367.1L1722.5 365.9L1723.8 365.5L1724.0 366.1L1725.5 367.3L1727.0 368.4L1728.5 368.6L1730.0 369.4L1731.5 369.4L1733.0 369.2L1734.5 371.2L1736.0 371.0L1737.1 372.8L1737.5 376.5L1739.0 383.6L1740.1 390.6L1740.5 392.1L1741.6 395.0L1742.0 394.5L1743.1 390.6L1743.5 389.2L1745.0 389.7L1746.5 386.7L1748.0 384.4L1749.0 384.7L1749.5 389.0L1751.0 400.5L1751.9 408.0L1752.5 411.7L1753.4 414.2L1754.0 411.6L1754.9 408.0L1755.5 403.4L1757.0 394.7L1758.5 386.3L1759.3 383.2L1760.0 388.9L1761.5 401.9L1763.0 412.2L1764.3 424.6L1764.5 425.1L1765.9 434.9L1766.0 434.2L1767.5 424.6L1767.5 425.3L1769.0 410.9L1770.5 396.1L1771.1 389.1L1772.0 386.4L1773.5 380.9L1775.0 374.6L1776.5 370.5L1777.0 368.4L1778.0 369.6L1779.5 373.3L1781.0 378.2L1782.5 380.8L1783.7 383.2L1784.0 383.5L1785.5 380.6L1786.0 380.0" stroke="#ff00ff"/>
<path d="M162.5 587.0L164.0 586.5L165.5 587.0L167.0 586.7L168.5 587.1L170.0 587.1L171.5 586.0L173.0 585.9L174.5 587.3L176.0 586.3L177.5 586.2L179.0 587.5L180.5 586.5L182.0 587.2L183.5 586.5L185.0 586.7L186.5 585.8L188.0 586.7L189.5 587.1L191.0 586.4L192.5 586.8L194.0 586.6L195.5 585.5L197.0 586.7L198.5 586.4L200.0 585.8L201.5 585.3L203.0 586.8L204.5 586.0L206.0 586.4L207.5 586.7L209.0 586.3L210.5 586.7L212.0 585.7L213.5 586.4L215.0 585.7L216.5 586.6L218.0 586.4L219.5 585.0L221.0 585.0L222.5 585.2L224.0 586.5L225.5 585.5L227.0 585.8L228.5 585.2L230.0 585.5L231.5 585.3L233.0 585.2L234.3 585.4L234.5 585.6L236.0 585.6L237.5 586.2L239.0 585.9L240.5 586.4L242.0 586.3L243.5 586.6L245.0 586.1L246.5 585.2L248.0 586.5L249.5 586.7L251.0 586.7L252.5 586.1L254.0 586.4L255.5 585.6L257.0 586.8L258.5 586.3L260.0 585.9L261.5 585.5L263.0 587.0L264.5 587.3L266.0 585.7L267.5 587.1L269.0 586.4L270.5 586.0L272.0 586.3L273.5 587.2L275.0 587.4L276.5 586.0L278.0 587.1L279.5 586.1L281.0 587.4L281.9 587.0L282.5 587.0L284.0 588.7L285.5 589.6L287.0 589.5L288.2 590.1L288.5 591.0L290.0 589.5L291.5 588.9L293.0 589.6L294.5 588.4L296.0 588.5L297.5 588.6L299.0 588.8L300.5 587.8L302.0 587.4L303.5 588.6L305.0 587.4L306.5 588.4L308.0 588.1L309.5 586.9L310.5 587.0L311.0 587.1L312.5 587.6L314.0 588.3L315.5 588.7L317.0 589.0L318.5 589.6L320.0 590.6L321.5 590.3L323.0 590.6L324.5 591.6L326.0 591.1L326.3 591.7L327.5 591.9L329.0 593.9L330.5 593.8L332.0 594.6L333.5 594.4L335.0 595.9L336.5 596.9L338.0 596.7L339.5 598.5L341.0 599.2L342.5 599.0L344.0 600.7L345.4 601.2L345.5 601.2L347.0 602.1L348.5 602.1L350.0 603.2L351.5 603.8L353.0 603.1L354.5 603.7L356.0 605.3L357.5 606.4L359.0 605.7L360.5 606.6L362.0 607.3L363.5 607.4L365.0 608.0L366.5 608.5L367.6 609.2L368.0 609.1L369.5 610.2L371.0 610.3L372.5 611.1L374.0 612.5L375.5 611.8L377.0 613.4L378.5 614.4L380.0 614.3L381.5 614.8L383.0 616.5L384.5 616.1L386.0 616.7L387.5 617.8L389.0 618.9L390.5 618.5L392.0 619.5L393.0 620.3L393.5 620.2L395.0 621.7L396.5 621.6L398.0 622.9L399.5 622.3L401.0 623.2L402.5 624.4L404.0 625.4L405.5 625.2L407.0 625.4L408.5 625.8L410.0 627.2L411.5 627.2L413.0 628.9L414.5 629.5L416.0 628.9L417.5 629.7L419.0 631.3L420.5 631.6L422.0 632.5L423.5 632.2L424.7 633.0L425.0 632.4L426.5 633.2L428.0 634.5L429.5 634.0L431.0 634.6L432.5 635.2L434.0 635.6L435.5 636.1L437.0 637.4L438.5 636.5L440.0 636.7L441.5 638.8L443.0 639.2L444.5 639.8L446.0 639.3L447.5 640.6L449.0 641.1L450.5 640.2L452.0 641.6L453.5 642.2L455.0 642.4L456.4 642.5L456.5 642.5L458.0 642.1L459.5 642.2L461.0 641.9L462.5 641.6L464.0 642.5L465.5 641.9L467.0 642.9L468.5 641.5L470.0 643.0L471.5 642.6L473.0 642.9L474.5 642.9L476.0 642.8L477.5 642.2L479.0 641.2L480.5 642.5L482.0 641.4L483.5 641.6L485.0 642.3L486.5 642.0L488.0 641.7L488.1 641.9L489.5 642.7L491.0 642.0L492.5 641.5L494.0 641.3L495.5 642.4L497.0 641.7L498.5 642.2L500.0 641.4L501.5 641.1L503.0 641.6L504.5 642.1L506.0 640.9L507.5 642.0L509.0 642.2L510.5 642.0L512.0 642.0L513.5 640.5L515.0 641.6L516.5 642.0L518.0 640.5L519.5 640.8L521.0 640.8L522.5 641.2L524.0 641.0L525.5 641.1L527.0 641.6L528.5 640.2L530.0 640.2L531.5 640.3L533.0 640.3L534.5 640.1L535.7 640.9L536.0 641.7L537.5 641.0L539.0 639.2L540.5 639.5L542.0 638.7L543.5 638.2L545.0 637.8L546.5 637.9L548.0 637.4L549.5 636.5L551.0 635.8L552.5 635.6L554.0 634.7L555.5 635.1L557.0 634.9L558.5 633.9L560.0 632.9L561.5 632.6L563.0 632.5L564.5 632.5L566.0 632.3L567.4 631.4L567.5 631.1L569.0 631.2L570.5 630.2L572.0 629.2L573.5 628.4L575.0 628.0L576.5 627.7L578.0 626.5L579.5 626.3L581.0 625.2L582.5 624.2L584.0 624.0L585.5 623.6L587.0 621.8L588.5 621.8L590.0 621.1L591.5 621.2L593.0 620.7L594.5 619.0L596.0 619.3L597.5 618.4L599.0 616.8L599.2 617.1L600.5 616.6L602.0 615.6L603.5 616.4L605.0 615.7L606.5 615.6L608.0 615.0L609.5 614.3L611.0 614.0L612.5 613.2L614.0 612.0L615.5 612.4L617.0 610.9L618.5 610.7L620.0 611.4L621.5 609.6L623.0 609.2L624.5 608.8L626.0 609.8L627.5 608.0L629.0 607.3L630.5 608.3L630.9 607.6L632.0 606.6L633.5 607.4L635.0 606.7L636.5 606.5L638.0 606.3L639.5 605.2L641.0 605.1L642.5 603.3L644.0 604.2L645.5 603.2L647.0 603.2L648.5 601.6L649.9 601.9L650.0 602.4L651.5 603.4L653.0 602.5L654.5 603.6L656.0 604.8L657.5 605.9L659.0 605.5L660.5 606.1L662.0 606.9L662.6 607.6L663.5 607.2L665.0 606.6L666.5 605.0L668.0 604.0L669.5 603.1L671.0 602.1L672.5 601.3L674.0 599.8L675.3 599.7L675.5 599.6L677.0 599.9L678.5 598.3L680.0 598.3L681.5 596.7L683.0 597.1L684.5 596.6L686.0 595.9L687.5 595.0L689.0 594.4L690.5 594.1L692.0 594.0L693.5 592.1L694.3 592.4L695.0 591.6L696.5 592.6L698.0 592.8L699.5 591.9L701.0 591.7L702.5 592.0L704.0 590.9L705.5 590.9L707.0 590.7L708.5 591.2L710.0 590.6L711.5 590.3L713.0 591.0L714.5 591.3L716.0 590.0L717.5 590.6L719.0 589.9L720.0 590.0L720.5 590.5L722.0 589.8L723.5 589.0L725.0 588.6L726.5 588.0L728.0 588.5L729.5 588.3L731.0 588.0L732.5 587.6L734.0 587.9L735.5 587.8L737.0 588.6L738.5 587.4L740.0 588.9L741.5 587.9L743.0 588.1L744.5 587.8L746.0 588.4L747.5 588.3L749.0 587.8L750.5 587.6L752.0 588.0L753.5 588.2L755.0 587.4L756.5 587.9L758.0 588.3L759.5 587.4L761.0 586.9L762.5 586.8L764.0 587.7L765.5 587.5L767.0 588.0L768.5 587.8L770.0 586.6L771.5 586.5L773.0 586.6L774.5 586.4L776.0 587.3L777.5 587.5L779.0 587.6L780.5 586.3L782.0 587.4L783.5 586.7L785.0 586.4L786.5 586.6L788.0 587.1L789.5 586.0L791.0 586.0L792.5 587.4L794.0 586.4L795.5 586.5L797.0 586.9L798.5 587.1L800.0 585.9L801.5 586.5L803.0 586.7L804.5 586.8L806.0 586.3L807.5 587.0L809.0 587.7L810.5 586.7L812.0 587.0L813.5 586.2L815.0 586.5L816.5 587.2L818.0 586.2L819.5 587.6L821.0 587.7L822.5 586.2L824.0 587.7L825.5 586.7L827.0 587.5L828.5 587.4L830.0 586.6L831.5 587.3L833.0 587.3L834.5 587.6L836.0 586.6L837.5 587.5L839.0 587.9L840.5 587.4L842.0 587.1L843.5 586.4L845.0 587.1L846.5 586.8L848.0 587.5L849.5 587.4L851.0 587.2L852.5 586.6L854.0 587.4L855.5 587.4L857.0 586.6L858.5 587.9L860.0 587.5L861.5 586.5L863.0 588.0L864.5 586.6L866.0 586.9L867.5 587.6L869.0 587.4L870.5 587.3L872.0 587.5L873.5 587.2L875.0 586.9L876.5 586.7L878.0 586.5L879.5 587.7L881.0 587.8L882.5 587.4L884.0 587.8L885.5 587.1L887.0 586.9L888.5 587.2L890.0 588.0L891.5 586.6L893.0 587.4L894.5 586.9L896.0 587.9L897.5 587.2L899.0 587.1L900.5 587.3L902.0 587.5L903.5 587.9L905.0 587.2L906.5 588.1L908.0 586.8L909.5 587.1L911.0 586.8L912.5 586.8L914.0 588.0L915.5 587.9L917.0 587.0L918.5 587.0L920.0 587.4L921.5 588.0L923.0 588.1L924.5 588.0L926.0 587.8L927.5 587.0L929.0 587.4L930.5 587.1L932.0 587.7L933.5 587.8L935.0 587.1L936.5 587.2L938.0 588.2L939.5 586.8L941.0 588.2L942.1 587.7L942.5 588.4L944.0 588.5L945.5 587.5L947.0 587.8L948.5 587.9L950.0 588.0L951.5 588.6L953.0 588.1L954.5 587.5L956.0 588.5L957.5 587.8L959.0 588.0L960.5 588.3L962.0 587.0L963.5 588.4L965.0 588.2L966.5 587.9L968.0 588.0L969.5 587.9L971.0 587.4L972.5 588.0L974.0 587.2L975.5 588.0L977.0 588.3L978.5 587.9L980.0 588.2L981.5 588.9L983.0 588.8L984.5 587.4L986.0 588.6L987.5 588.4L989.0 587.3L990.0 587.4L991.2 587.5L992.5 589.8L993.8 589.6L995.0 587.7L996.2 589.9L997.5 589.9L998.8 587.9L1000.0 590.9L1001.2 587.2L1002.5 591.7L1003.8 588.0L1005.0 588.5L1006.2 592.0L1007.5 587.7L1008.8 592.0L1009.2 587.1L1010.1 593.3L1011.2 592.0L1012.5 593.0L1013.8 587.8L1015.0 593.3L1016.2 587.2L1017.5 585.4L1018.8 594.0L1020.0 585.9L1021.2 592.8L1022.5 592.6L1023.8 586.0L1025.0 594.6L1025.8 583.2L1026.2 591.8L1027.5 582.9L1028.8 582.6L1030.0 593.6L1031.2 594.3L1032.5 584.2L1033.8 594.1L1035.0 582.0L1036.2 595.0L1037.5 582.9L1038.8 596.9L1040.0 581.9L1041.2 580.7L1042.5 598.1L1043.8 594.5L1045.0 583.3L1046.2 599.0L1047.5 579.5L1048.8 593.3L1050.0 599.0L1051.2 598.7L1052.5 577.9L1053.5 600.5L1053.8 598.1L1055.0 583.4L1056.2 596.3L1057.5 582.6L1058.8 596.1L1060.0 580.9L1061.2 581.8L1062.5 584.6L1063.8 585.0L1065.0 595.5L1066.2 585.5L1067.5 594.1L1068.3 595.9L1069.2 584.5L1070.0 585.7L1071.2 584.7L1072.5 594.1L1073.8 587.5L1075.0 594.8L1076.2 592.3L1077.5 593.4L1078.8 593.2L1080.0 586.1L1081.2 586.5L1082.5 585.9L1083.8 592.5L1085.0 586.7L1086.2 593.0L1087.5 592.7L1088.0 585.8L1089.0 593.3L1090.0 593.1L1091.2 587.6L1092.5 593.0L1093.8 585.9L1095.0 585.8L1096.2 595.5L1097.5 596.1L1098.8 584.9L1100.0 596.8L1101.2 585.3L1102.5 586.0L1103.8 583.2L1104.7 598.5L1105.0 586.6L1106.2 595.9L1107.5 581.3L1108.8 595.2L1110.0 580.8L1111.2 596.9L1112.5 579.6L1113.8 598.4L1115.0 580.8L1116.2 597.3L1117.5 591.8L1118.2 572.0L1119.2 598.5L1120.0 598.0L1121.2 594.6L1122.5 576.8L1123.8 580.1L1125.0 593.0L1126.2 583.3L1127.5 580.2L1128.8 593.6L1130.0 582.0L1131.2 582.4L1132.7 581.9L1133.5 598.5L1135.0 595.4L1136.2 594.1L1137.5 579.9L1138.8 597.5L1140.0 597.9L1141.2 579.7L1142.5 595.4L1143.8 578.2L1144.5 598.5L1145.3 572.0L1146.2 573.2L1147.5 597.2L1148.8 578.9L1150.0 590.8L1151.2 578.9L1152.5 577.4L1153.8 593.1L1155.0 581.9L1156.2 592.0L1157.5 582.1L1158.8 591.4L1160.0 582.6L1160.2 581.9L1161.2 593.3L1162.5 583.1L1163.8 590.6L1165.0 591.2L1166.2 584.1L1167.5 591.1L1168.8 584.2L1170.0 585.1L1171.2 590.3L1172.5 590.8L1173.8 585.4L1175.0 586.3L1176.0 590.6L1176.8 585.8L1177.5 590.2L1178.8 586.0L1180.0 589.1L1181.2 585.9L1182.5 589.4L1183.8 589.1L1185.0 586.1L1186.2 586.5L1187.5 588.9L1188.8 586.3L1190.0 585.9L1191.2 588.6L1192.5 588.3L1193.8 586.5L1195.0 588.0L1196.2 586.0L1197.5 587.4L1198.8 586.0L1200.0 587.0L1201.2 586.0L1202.5 586.9L1203.8 586.0L1205.0 586.8L1206.2 586.0L1207.5 586.5L1208.8 585.8L1210.0 586.4L1211.2 586.4L1212.5 585.7L1213.8 586.1L1215.0 585.5L1216.2 585.9L1217.5 585.5L1218.8 585.7L1220.0 585.4L1221.2 585.5L1222.5 585.4L1223.8 585.3L1225.0 585.2L1226.2 585.2L1227.5 585.1L1228.8 585.0L1230.0 585.0L1230.5 585.2L1232.0 584.9L1233.5 584.6L1235.0 585.4L1236.5 586.1L1238.0 584.9L1239.5 585.9L1241.0 585.5L1242.5 584.5L1243.5 585.1L1244.0 585.8L1245.5 585.6L1247.0 586.4L1248.5 586.2L1250.0 586.5L1251.5 586.0L1253.0 587.0L1254.5 587.5L1256.0 587.6L1257.5 587.0L1259.0 587.8L1260.5 587.5L1262.0 587.1L1263.5 587.2L1265.0 587.4L1265.7 588.3L1266.5 587.9L1268.0 588.2L1269.5 589.2L1270.0 589.3L1271.0 590.0L1272.5 590.2L1274.0 590.5L1275.5 591.4L1277.0 591.3L1278.5 592.1L1279.3 592.4L1280.0 594.0L1281.5 595.0L1283.0 596.3L1284.5 600.3L1284.7 599.4L1286.0 601.3L1287.5 601.8L1289.0 603.3L1290.5 605.3L1292.0 607.0L1293.1 607.8L1293.5 608.0L1295.0 611.1L1296.5 615.4L1297.4 618.5L1298.0 620.9L1299.5 623.0L1301.0 627.9L1302.5 631.1L1304.0 635.9L1305.5 640.2L1307.0 635.9L1308.5 634.4L1310.0 633.6L1311.5 633.5L1313.0 632.2L1314.5 631.1L1316.0 630.6L1317.5 630.1L1317.8 630.9L1319.0 631.9L1320.5 632.0L1322.0 633.2L1323.5 635.7L1325.0 636.8L1326.5 639.0L1328.0 638.4L1328.6 640.2L1329.5 657.8L1330.8 684.6L1331.0 685.4L1332.5 695.7L1334.0 684.4L1334.2 684.6L1335.5 674.1L1337.0 658.8L1337.8 652.5L1338.5 645.2L1340.0 633.0L1341.5 618.8L1342.5 610.9L1343.0 610.6L1344.5 608.1L1346.0 605.6L1347.5 603.6L1349.0 603.7L1350.2 601.6L1350.5 600.9L1352.0 601.7L1353.5 600.2L1355.0 601.0L1356.5 598.6L1358.0 597.9L1359.5 597.4L1360.2 597.8L1361.0 601.2L1362.5 605.5L1364.0 609.4L1365.5 613.5L1367.0 619.9L1368.5 625.5L1368.7 624.8L1370.0 644.4L1371.5 665.1L1371.8 671.0L1373.0 681.4L1374.5 696.2L1376.0 711.0L1377.5 725.3L1377.9 730.9L1379.0 736.7L1380.3 746.6L1380.5 745.7L1382.0 736.1L1382.6 730.9L1383.5 705.4L1384.9 668.0L1385.0 667.6L1386.5 641.1L1387.2 629.4L1388.0 628.1L1389.5 624.3L1391.0 620.2L1392.5 613.6L1393.4 612.4L1394.0 611.3L1395.5 610.6L1397.0 610.1L1398.5 606.1L1400.0 605.2L1401.5 605.3L1403.0 601.7L1404.5 601.0L1405.7 600.1L1406.0 600.1L1407.5 603.1L1409.0 605.9L1410.5 605.9L1412.0 609.5L1413.5 611.6L1415.0 614.0L1416.5 615.3L1418.0 618.4L1418.1 617.3L1419.5 622.4L1419.6 623.2L1421.0 617.5L1421.1 617.3L1422.5 613.5L1424.0 611.8L1425.5 607.7L1427.0 603.9L1428.5 600.4L1430.0 598.6L1431.5 595.1L1431.9 593.9L1433.0 594.9L1434.5 594.4L1436.0 595.2L1437.5 594.8L1439.0 596.9L1440.5 595.4L1441.2 597.0L1442.0 596.0L1443.5 595.2L1445.0 593.4L1446.5 590.1L1448.0 588.9L1449.5 589.0L1451.0 586.8L1451.2 586.2L1452.5 593.1L1454.0 599.8L1455.0 603.2L1455.5 607.3L1457.0 621.3L1458.2 630.3L1458.5 632.3L1459.7 637.1L1460.0 635.3L1461.2 630.3L1461.5 629.0L1463.0 623.3L1464.5 619.4L1465.8 615.5L1466.0 617.5L1467.5 620.5L1469.0 627.2L1470.5 631.3L1472.0 637.8L1473.5 646.4L1475.0 637.8L1476.5 629.9L1478.0 624.9L1479.5 617.1L1481.0 609.9L1482.5 603.6L1482.8 603.2L1484.0 610.2L1485.5 618.2L1487.0 624.8L1488.5 633.6L1489.0 637.1L1490.0 654.6L1491.5 676.9L1492.8 698.8L1493.0 702.9L1494.5 731.8L1496.0 762.1L1496.8 777.8L1497.5 782.5L1499.0 793.0L1499.8 797.5L1500.5 791.6L1502.0 777.7L1502.1 777.8L1503.5 738.2L1504.4 714.2L1505.0 703.0L1506.5 679.9L1508.0 652.8L1509.0 637.1L1509.5 633.8L1511.0 630.4L1512.5 622.2L1513.6 618.6L1514.0 619.6L1515.5 617.0L1517.0 617.7L1518.5 616.6L1520.0 617.0L1521.5 613.4L1523.0 608.3L1524.4 603.7L1524.5 604.3L1526.0 608.1L1527.5 611.9L1528.9 614.1L1529.0 615.9L1530.5 649.8L1531.3 667.3L1532.0 671.8L1533.3 680.6L1533.5 678.2L1535.0 670.2L1535.3 667.3L1536.5 657.5L1538.0 645.7L1539.2 634.8L1539.5 648.1L1541.0 719.9L1541.4 738.7L1542.5 751.6L1543.6 764.7L1544.0 761.8L1545.5 746.8L1546.5 738.7L1547.0 726.0L1548.5 685.6L1549.5 658.4L1550.0 653.1L1551.5 642.2L1553.0 630.4L1554.5 617.2L1556.0 605.6L1556.9 597.8L1557.5 602.2L1559.0 611.5L1560.5 622.3L1561.4 628.9L1562.0 651.7L1563.2 695.1L1563.5 696.8L1565.0 710.5L1565.1 711.6L1566.5 701.1L1567.6 695.1L1568.0 683.7L1569.5 645.6L1570.2 628.9L1571.0 625.4L1572.5 615.9L1574.0 607.5L1574.7 602.3L1575.5 604.2L1577.0 604.2L1578.5 606.1L1579.1 605.3L1580.0 608.0L1580.6 609.7L1581.5 606.8L1582.1 605.3L1583.0 600.1L1584.5 589.2L1585.0 584.5L1586.0 583.8L1587.5 579.5L1589.0 577.3L1590.5 573.2L1590.9 572.7L1592.0 573.8L1593.5 573.1L1595.0 571.0L1596.5 572.3L1598.0 569.8L1599.5 569.1L1601.0 570.5L1601.2 569.8L1602.5 577.6L1604.0 587.8L1605.5 597.8L1607.0 605.8L1608.4 615.9L1608.5 617.4L1610.0 626.1L1610.1 627.4L1611.5 617.9L1611.8 615.9L1613.0 606.6L1614.5 596.5L1616.0 584.5L1617.5 583.0L1619.0 579.4L1620.5 576.7L1621.9 575.7L1622.0 575.2L1623.5 576.8L1625.0 577.1L1626.5 578.6L1628.0 581.6L1629.5 582.7L1631.0 584.7L1632.3 584.5L1632.5 586.0L1634.0 586.8L1635.5 586.6L1637.0 587.1L1638.5 588.6L1640.0 590.2L1641.5 591.5L1643.0 592.7L1644.1 593.4L1644.5 593.1L1646.0 594.6L1647.5 593.2L1649.0 593.9L1650.5 595.3L1652.0 595.3L1653.5 594.0L1655.0 594.1L1655.9 594.9L1656.5 595.6L1658.0 593.1L1659.5 593.1L1661.0 593.8L1662.5 593.5L1664.0 592.1L1665.5 591.5L1667.0 591.6L1668.5 592.8L1669.2 591.9L1670.0 596.4L1671.5 606.4L1673.0 614.4L1673.6 617.0L1674.5 643.6L1675.5 669.0L1676.0 671.6L1677.3 682.0L1677.5 679.8L1679.0 669.3L1679.2 669.0L1680.5 660.2L1682.0 649.6L1682.5 646.6L1683.5 646.5L1685.0 649.7L1686.5 650.2L1688.0 652.6L1689.5 654.2L1689.9 655.4L1691.0 664.7L1692.5 675.1L1694.0 686.1L1694.8 692.7L1695.5 696.3L1696.5 704.2L1697.0 700.7L1698.2 692.7L1698.5 689.4L1700.0 669.7L1701.5 650.4L1701.7 646.6L1703.0 644.2L1704.5 638.9L1706.0 634.8L1707.5 632.8L1707.6 631.8L1709.0 631.5L1710.5 629.5L1712.0 629.2L1713.5 627.2L1715.0 625.3L1716.5 623.8L1718.0 622.2L1719.5 622.7L1721.0 622.2L1722.4 620.0L1722.5 621.2L1724.0 621.5L1725.5 623.6L1727.0 625.8L1728.5 627.0L1730.0 627.9L1731.5 628.9L1733.0 630.7L1734.5 631.3L1736.0 632.8L1737.1 634.8L1737.5 637.0L1739.0 644.3L1740.5 649.4L1741.6 654.0L1742.0 653.3L1743.5 651.7L1745.0 650.5L1746.5 649.9L1748.0 647.5L1749.0 646.6L1749.5 652.0L1751.0 661.9L1751.9 670.2L1752.5 672.0L1753.4 676.1L1754.0 673.8L1754.9 670.2L1755.5 667.1L1757.0 661.3L1758.5 654.2L1759.3 649.5L1760.0 657.3L1761.5 670.6L1763.0 683.2L1764.2 695.6L1764.5 698.0L1765.9 707.1L1766.0 706.6L1767.5 696.4L1767.6 695.6L1769.0 681.5L1770.5 667.9L1771.1 661.4L1772.0 660.0L1773.5 653.6L1775.0 651.0L1776.5 645.9L1778.0 642.1L1778.5 640.7L1779.5 642.9L1781.0 644.8L1782.5 645.6L1783.7 646.6L1784.0 645.5L1785.5 646.5L1786.0 645.0" stroke="#0000ff"/>
<path d="M162.5 803.9L164.0 803.2L165.5 802.9L167.0 803.7L168.5 803.1L170.0 802.9L171.5 803.8L173.0 805.2L174.5 804.9L176.0 804.8L177.5 803.4L179.0 804.3L180.5 803.6L182.0 803.4L183.5 803.2L185.0 803.5L186.5 805.4L188.0 805.2L189.5 805.1L191.0 805.1L192.5 803.6L194.0 803.9L195.5 804.8L197.0 805.1L198.5 805.4L200.0 805.5L201.5 803.5L203.0 804.8L204.5 805.0L205.8 804.6L206.0 804.6L207.5 803.9L209.0 804.7L210.5 803.8L212.0 806.1L213.5 806.1L215.0 805.3L216.5 804.8L218.0 806.5L219.5 805.7L221.0 806.6L222.5 806.6L224.0 805.8L225.5 805.7L227.0 806.3L228.5 805.9L230.0 805.3L231.5 805.8L233.0 807.2L234.3 806.5L234.5 805.3L236.0 805.2L237.5 806.6L239.0 805.5L240.5 806.1L242.0 805.8L243.5 805.3L245.0 806.9L246.5 804.7L248.0 805.1L249.5 804.5L251.0 805.4L252.5 804.4L254.0 804.5L255.5 805.4L257.0 804.1L258.5 804.6L260.0 805.4L261.5 803.2L263.0 802.9L264.5 803.3L266.0 804.5L267.5 804.0L269.0 802.9L270.5 803.0L272.0 802.5L272.4 803.3L273.5 803.8L275.0 803.5L276.5 806.0L278.0 807.4L279.5 808.3L281.0 808.6L282.5 810.0L284.0 808.4L285.5 809.9L287.0 812.5L288.2 811.9L288.5 812.5L290.0 811.1L291.5 811.9L293.0 810.6L294.5 810.6L296.0 808.7L297.5 807.9L299.0 808.1L300.5 806.8L302.0 806.9L303.5 807.9L304.1 806.5L305.0 806.0L306.5 805.2L308.0 805.2L309.5 805.5L311.0 807.1L312.5 806.0L314.0 805.7L315.5 805.2L317.0 807.5L318.5 806.0L320.0 805.4L321.5 805.0L323.0 804.9L324.5 805.2L326.0 806.5L327.5 805.1L329.0 804.8L330.5 805.9L332.0 805.3L333.5 807.2L335.0 804.9L336.5 805.9L338.0 806.5L339.5 805.5L341.0 807.0L342.5 805.6L344.0 805.0L345.5 805.4L347.0 804.4L348.5 805.4L350.0 804.9L351.5 806.5L351.7 805.5L353.0 806.0L354.5 804.6L356.0 802.9L357.5 803.1L359.0 802.6L360.5 802.0L362.0 801.6L363.5 802.8L365.0 800.4L366.5 799.7L368.0 801.5L369.5 800.1L371.0 800.8L372.5 798.8L374.0 799.6L375.5 798.5L377.0 798.4L377.1 797.6L378.5 797.9L380.0 796.9L381.5 795.4L383.0 795.4L384.5 796.7L386.0 796.4L387.5 796.1L389.0 794.2L390.5 794.7L392.0 794.7L393.5 793.9L395.0 794.0L396.5 792.8L398.0 792.8L399.5 792.5L401.0 791.0L402.5 792.4L404.0 792.1L405.5 789.4L407.0 791.4L408.5 791.0L408.8 789.7L410.0 789.7L411.5 787.6L413.0 789.3L414.5 786.8L416.0 788.5L417.5 787.2L419.0 785.2L420.5 784.9L422.0 785.6L423.5 785.0L425.0 784.9L426.5 784.9L428.0 782.6L429.5 781.5L431.0 783.4L432.5 780.5L434.0 782.3L435.5 779.8L437.0 781.1L438.5 780.5L440.0 780.3L441.5 778.9L443.0 779.3L444.5 777.0L446.0 777.7L447.5 776.3L449.0 777.3L450.5 776.5L452.0 775.2L453.5 774.8L455.0 773.0L456.4 773.8L456.5 772.6L458.0 773.7L459.5 773.1L461.0 773.8L462.5 772.8L464.0 771.3L465.5 771.6L467.0 772.4L468.5 771.4L470.0 769.8L471.5 771.6L473.0 771.3L474.5 769.1L476.0 770.0L477.5 769.2L479.0 770.0L480.5 768.4L482.0 767.9L483.5 768.3L485.0 769.2L486.5 766.7L488.0 766.4L488.1 767.4L489.5 767.8L491.0 768.6L492.5 767.7L494.0 767.6L495.5 768.8L497.0 768.7L498.5 766.9L500.0 769.1L501.5 767.5L503.0 767.8L504.5 769.3L506.0 768.3L507.5 769.4L509.0 767.9L510.5 769.8L512.0 768.1L513.5 769.0L515.0 768.5L516.5 769.7L518.0 769.7L519.5 770.6L521.0 771.9L522.5 771.8L524.0 770.4L525.5 771.5L527.0 772.5L528.5 772.7L530.0 773.7L531.5 773.5L533.0 772.8L534.5 773.6L536.0 775.6L537.5 774.7L539.0 776.1L540.5 777.1L542.0 776.5L543.5 777.0L545.0 777.2L546.5 776.8L548.0 778.8L549.5 778.0L551.0 779.5L551.6 778.6L552.5 778.4L554.0 780.3L555.5 780.5L557.0 780.5L558.5 780.5L560.0 780.2L561.5 782.2L563.0 781.6L564.5 782.9L566.0 781.9L567.4 783.3L567.5 782.2L569.0 782.6L570.5 784.6L572.0 783.2L573.5 785.4L575.0 784.2L576.5 785.0L578.0 784.7L579.5 785.6L581.0 784.5L582.5 785.6L584.0 787.2L585.5 785.5L587.0 787.0L588.5 786.4L590.0 786.6L591.5 786.1L593.0 786.4L594.5 789.0L596.0 789.0L597.5 789.1L599.0 789.4L600.5 790.0L602.0 788.2L603.5 789.6L605.0 789.6L605.5 789.7L606.5 789.9L608.0 790.9L609.5 790.5L611.0 791.1L612.5 788.9L614.0 790.4L615.5 790.5L617.0 790.7L618.5 790.4L620.0 791.1L621.5 789.7L623.0 791.4L624.5 790.1L626.0 790.7L627.5 791.5L629.0 791.0L630.5 790.0L632.0 789.9L633.5 790.2L635.0 791.0L636.5 792.0L638.0 791.8L639.5 790.6L641.0 790.6L642.5 791.8L644.0 790.4L645.5 790.8L647.0 789.8L648.5 790.3L649.9 791.2L650.0 791.4L651.5 792.9L653.0 793.8L654.5 794.3L656.0 797.0L657.5 797.3L659.0 797.2L660.5 798.1L662.0 801.6L662.6 800.8L663.5 801.5L665.0 800.4L666.5 798.7L668.0 797.1L669.5 795.6L671.0 795.1L672.5 794.1L674.0 795.0L675.5 794.0L677.0 792.8L678.5 791.2L680.0 789.8L681.5 789.6L683.0 789.3L684.5 790.5L686.0 788.0L687.5 789.2L689.0 788.4L690.5 787.6L692.0 788.2L693.5 785.9L695.0 786.1L696.5 784.7L698.0 784.1L699.5 783.5L700.7 784.3L701.0 783.9L702.5 783.7L704.0 783.9L705.5 786.7L707.0 785.2L708.5 787.1L710.0 786.9L711.5 787.3L713.0 787.4L714.5 788.6L716.0 788.7L717.5 788.6L719.0 788.5L720.0 788.6L720.5 789.2L722.0 789.5L723.5 789.3L725.0 789.4L726.5 788.8L728.0 790.8L729.5 790.1L731.0 789.3L732.5 789.8L734.0 791.9L735.5 790.5L737.0 791.1L738.5 792.1L739.0 791.7L740.0 792.6L741.5 791.3L743.0 791.4L744.5 791.5L746.0 790.5L747.5 792.7L749.0 790.4L750.5 792.9L752.0 790.8L753.5 790.8L755.0 792.6L756.5 792.5L758.0 791.0L759.5 791.8L761.0 791.6L762.5 792.3L764.0 790.9L765.5 792.5L767.0 793.0L768.5 792.2L770.0 792.8L771.5 792.8L773.0 791.4L774.5 792.6L776.0 792.6L777.5 791.9L779.0 790.7L780.5 792.0L782.0 792.8L783.5 791.2L785.0 792.1L786.5 792.7L788.0 792.0L789.5 790.5L791.0 792.0L792.5 791.1L794.0 792.6L795.5 792.1L797.0 791.2L798.5 792.7L800.0 792.0L801.5 791.3L803.0 792.6L804.5 792.7L806.0 792.7L807.5 792.7L809.0 792.1L810.5 792.2L812.0 792.0L813.5 791.8L815.0 793.0L816.5 791.3L818.0 790.6L819.5 792.3L821.0 791.7L822.5 791.8L824.0 792.0L825.5 791.0L827.0 790.9L828.5 790.6L830.0 792.4L831.5 792.8L833.0 792.2L834.5 790.7L836.0 792.9L837.5 792.5L839.0 791.7L840.5 790.4L842.0 792.6L843.5 792.0L845.0 792.0L846.5 790.4L846.9 791.7L848.0 792.3L849.5 790.6L851.0 791.8L852.5 791.0L854.0 791.6L855.5 793.0L857.0 792.7L858.5 792.9L860.0 791.6L861.5 791.9L863.0 792.5L864.5 791.1L866.0 792.1L867.5 793.6L869.0 793.1L870.5 793.4L872.0 792.0L873.5 793.1L875.0 793.4L876.5 793.2L878.0 792.6L879.5 792.0L881.0 791.6L882.5 793.9L884.0 794.1L885.5 792.4L887.0 793.7L888.5 792.9L890.0 793.5L891.5 794.1L893.0 792.8L894.5 793.6L896.0 792.7L897.5 793.4L899.0 792.2L900.5 792.9L902.0 793.0L903.5 794.7L905.0 792.7L906.5 794.4L908.0 792.7L909.5 795.1L911.0 793.0L912.5 792.8L914.0 793.2L915.5 795.1L917.0 794.5L918.5 795.1L920.0 794.2L921.5 793.2L923.0 793.8L924.5 794.2L926.0 795.6L927.5 793.5L929.0 793.8L930.5 795.4L932.0 793.6L933.5 795.8L935.0 794.1L936.5 794.9L938.0 795.2L939.5 795.9L941.0 793.8L942.1 794.9L942.5 795.8L944.0 794.1L945.5 795.5L947.0 793.7L948.5 795.6L950.0 794.1L951.5 794.1L953.0 793.7L954.5 794.4L956.0 794.5L957.5 796.2L959.0 795.2L960.5 794.5L962.0 796.2L963.5 794.0L965.0 794.2L966.5 796.1L968.0 796.1L969.5 795.4L971.0 796.1L972.5 793.7L974.0 795.9L975.5 795.4L977.0 795.3L978.5 795.8L980.0 793.9L981.5 794.1L983.0 794.0L984.5 794.8L986.0 795.0L987.5 795.0L989.0 794.5L989.7 794.9L990.0 792.3L991.2 792.4L992.5 791.9L993.8 794.5L995.0 794.7L996.2 791.9L997.5 794.6L998.8 791.9L1000.0 791.4L1001.2 794.4L1002.5 791.3L1003.8 794.9L1005.0 790.6L1006.2 791.4L1006.5 790.2L1007.5 795.6L1008.8 795.7L1010.0 791.2L1011.2 795.0L1012.5 790.7L1013.8 796.2L1015.0 790.7L1015.9 796.9L1016.8 790.8L1017.5 791.2L1018.8 795.8L1020.0 789.8L1021.2 795.6L1022.5 789.0L1023.8 797.9L1025.0 788.0L1026.2 786.2L1027.5 785.2L1028.8 796.5L1030.0 784.5L1030.2 782.9L1031.2 799.6L1032.5 798.2L1033.8 783.6L1035.0 798.3L1036.2 785.4L1037.5 797.7L1038.8 788.1L1040.0 798.5L1041.2 786.3L1042.5 799.0L1043.8 786.6L1044.7 803.5L1045.5 785.6L1046.2 785.9L1047.5 803.3L1048.8 783.1L1050.0 805.1L1051.2 783.4L1052.5 779.0L1053.5 807.5L1053.8 801.0L1055.0 782.0L1056.2 803.7L1057.5 786.0L1057.8 807.5L1058.8 782.9L1060.0 787.2L1061.2 786.8L1062.5 805.1L1063.8 790.8L1065.0 793.2L1066.2 793.7L1067.5 801.7L1068.3 802.2L1069.2 793.5L1070.0 793.2L1071.2 800.6L1072.5 792.2L1073.8 794.0L1075.0 798.7L1076.2 799.1L1077.5 791.5L1078.8 797.8L1080.0 796.8L1081.2 796.9L1082.5 796.0L1083.8 787.1L1085.0 795.6L1086.2 788.2L1087.5 792.9L1088.0 784.3L1089.0 794.3L1090.0 793.7L1091.2 788.5L1092.5 793.8L1093.8 795.0L1095.0 795.1L1096.2 790.1L1097.5 797.0L1098.8 797.0L1100.0 798.3L1101.2 793.5L1102.0 799.6L1102.5 799.2L1103.8 793.0L1105.0 799.9L1106.2 792.3L1107.5 799.8L1108.8 799.0L1110.0 788.9L1111.2 798.9L1112.5 788.8L1113.8 788.3L1115.0 800.3L1116.2 784.5L1117.5 786.1L1118.2 782.9L1119.2 802.2L1120.0 785.3L1121.2 804.4L1122.5 805.5L1123.8 785.7L1125.0 808.9L1126.2 792.2L1127.5 806.5L1128.8 789.6L1130.0 788.2L1131.0 815.3L1131.2 788.2L1132.5 810.1L1133.8 792.2L1135.0 806.4L1136.2 788.0L1137.5 804.3L1138.8 786.6L1140.0 799.4L1141.2 786.4L1142.5 787.4L1143.2 799.6L1144.0 782.9L1145.0 784.0L1146.2 799.2L1147.5 798.0L1148.8 799.7L1150.0 789.1L1151.2 799.2L1152.5 789.2L1153.8 790.2L1155.0 786.9L1155.8 804.8L1156.2 787.5L1157.5 788.2L1158.8 801.3L1160.0 790.5L1161.2 800.8L1162.5 792.2L1163.8 799.6L1164.2 799.6L1165.0 790.8L1166.2 793.4L1167.5 794.2L1168.8 799.4L1170.0 793.9L1171.2 799.2L1172.5 795.9L1173.8 795.9L1175.0 796.4L1176.2 795.5L1177.5 797.1L1178.8 797.4L1180.0 797.0L1181.2 791.8L1182.5 790.2L1183.5 795.6L1183.8 790.4L1185.0 795.4L1186.2 791.3L1187.5 795.1L1188.8 795.1L1190.0 791.6L1191.2 795.2L1192.5 792.2L1193.8 792.3L1195.0 794.9L1196.2 794.9L1197.5 792.7L1198.8 792.6L1200.0 795.0L1201.2 793.1L1202.5 795.0L1203.8 793.3L1205.0 793.9L1206.2 795.1L1207.5 793.6L1208.8 794.8L1210.0 792.6L1211.2 794.0L1212.5 793.6L1213.8 791.6L1215.0 793.2L1216.2 793.0L1217.5 790.8L1218.8 792.0L1220.0 792.1L1221.2 791.8L1222.5 790.4L1223.8 790.5L1225.0 790.6L1226.2 792.0L1227.5 790.5L1228.8 792.0L1230.0 790.5L1230.5 789.1L1232.0 789.3L1233.5 789.1L1235.0 787.1L1236.5 787.4L1238.0 787.5L1239.5 787.5L1241.0 788.3L1242.5 787.3L1244.0 788.4L1245.5 787.6L1247.0 787.6L1248.5 788.4L1250.0 789.0L1251.5 787.0L1253.0 787.4L1254.5 788.9L1256.0 786.9L1257.5 786.4L1259.0 786.7L1260.5 788.3L1262.0 788.0L1263.5 788.5L1265.0 787.3L1266.5 786.1L1268.0 786.7L1269.5 787.8L1271.0 786.9L1272.5 786.2L1274.0 786.7L1275.2 787.0L1275.5 787.0L1277.0 787.5L1278.5 788.4L1280.0 789.3L1281.5 788.0L1283.0 787.5L1284.5 789.6L1286.0 789.3L1287.5 788.2L1289.0 787.1L1290.5 787.5L1292.0 788.1L1293.5 788.9L1295.0 787.5L1296.5 788.8L1298.0 787.3L1299.5 786.1L1300.0 787.0L1301.0 789.8L1302.5 793.5L1304.0 797.2L1304.7 798.6L1305.5 798.7L1307.0 795.4L1308.5 795.5L1310.0 795.5L1311.5 792.4L1313.0 791.0L1314.5 790.2L1316.0 789.4L1317.0 789.3L1317.5 789.7L1319.0 791.1L1320.5 793.8L1322.0 794.1L1323.5 796.4L1325.0 799.1L1326.3 800.1L1326.5 803.3L1328.0 827.2L1329.5 849.9L1330.7 866.7L1331.0 868.0L1332.5 878.2L1333.2 883.4L1334.0 878.2L1335.5 868.2L1335.7 866.7L1337.0 849.6L1338.5 831.8L1338.6 829.4L1340.0 820.5L1341.5 812.7L1343.0 803.1L1344.5 796.8L1344.8 793.9L1346.0 793.9L1347.5 794.8L1349.0 791.9L1350.5 793.3L1352.0 792.6L1353.5 790.6L1355.0 792.6L1356.5 792.4L1358.0 789.7L1358.7 790.8L1359.5 793.5L1361.0 795.5L1362.5 797.5L1364.0 799.9L1365.5 801.5L1367.0 803.5L1367.9 806.3L1368.5 811.8L1370.0 827.1L1371.5 839.2L1372.5 849.4L1373.0 858.5L1374.5 885.6L1376.0 914.5L1377.0 933.3L1377.5 937.7L1379.0 947.5L1380.2 954.3L1380.5 951.0L1382.0 938.0L1382.5 933.3L1383.5 905.4L1384.9 868.0L1385.0 866.7L1386.5 847.6L1388.0 827.5L1389.5 806.3L1391.0 803.0L1392.5 802.1L1394.0 799.0L1395.5 798.1L1397.0 797.5L1398.5 793.6L1400.0 793.3L1401.5 791.6L1403.0 789.2L1404.5 785.4L1406.0 785.5L1407.5 783.5L1408.0 781.6L1409.0 785.5L1410.5 786.1L1412.0 789.7L1413.5 794.2L1415.0 798.5L1415.7 800.1L1416.5 799.3L1418.0 797.1L1419.5 797.6L1421.0 796.6L1422.5 795.3L1424.0 793.9L1425.5 792.8L1427.0 792.1L1428.0 790.8L1428.5 788.3L1430.0 785.6L1431.5 781.0L1433.0 777.2L1434.2 775.4L1434.5 776.1L1436.0 774.5L1437.5 774.3L1439.0 773.9L1440.5 774.5L1442.0 772.8L1443.5 774.1L1445.0 772.1L1446.5 774.5L1448.0 771.9L1449.5 773.4L1451.0 772.5L1451.2 772.3L1452.5 779.5L1454.0 787.7L1455.5 796.5L1455.8 798.6L1457.0 811.7L1458.2 823.2L1458.5 824.5L1459.7 829.4L1460.0 828.3L1461.2 823.2L1461.5 820.9L1463.0 814.4L1464.5 805.3L1465.1 803.2L1466.0 806.1L1467.5 811.5L1469.0 816.1L1470.5 821.1L1472.0 825.9L1473.5 829.7L1473.6 830.9L1475.0 841.0L1475.1 840.2L1476.5 832.1L1476.6 830.9L1478.0 823.3L1479.5 815.0L1481.0 804.5L1482.5 795.2L1482.8 793.9L1484.0 799.5L1485.5 807.2L1487.0 814.9L1488.5 822.7L1489.7 829.4L1490.0 836.7L1491.5 878.6L1492.8 914.2L1493.0 917.7L1494.5 948.4L1496.0 979.9L1496.3 985.8L1497.5 993.1L1499.0 1003.7L1500.5 994.8L1501.7 985.8L1502.0 980.3L1503.5 948.3L1505.0 919.3L1505.2 914.2L1506.5 889.3L1508.0 861.4L1509.5 836.4L1509.8 829.4L1511.0 824.1L1512.5 819.2L1514.0 817.0L1515.5 809.5L1516.0 809.4L1517.0 808.4L1518.5 805.8L1520.0 803.4L1521.5 799.6L1523.0 796.6L1524.5 795.8L1524.8 793.8L1526.0 799.1L1527.5 805.7L1529.0 813.3L1529.6 816.3L1530.5 830.0L1532.0 850.2L1532.7 861.2L1533.5 865.2L1534.4 872.4L1535.0 869.3L1536.1 861.2L1536.5 856.4L1538.0 843.3L1539.5 830.1L1540.9 819.5L1541.0 830.6L1542.1 934.4L1542.5 944.0L1543.3 963.9L1544.0 957.2L1545.5 940.9L1546.1 934.4L1547.0 897.9L1548.5 832.7L1548.9 816.3L1550.0 810.3L1551.5 803.8L1553.0 794.3L1554.5 787.8L1556.0 781.5L1556.9 776.2L1557.5 787.8L1559.0 815.9L1560.5 845.6L1561.6 864.8L1562.0 867.4L1563.5 878.3L1564.9 886.9L1565.0 885.9L1566.5 874.6L1568.0 865.1L1568.1 864.8L1569.5 827.2L1571.0 787.4L1571.3 781.0L1572.5 780.6L1574.0 780.4L1575.5 781.7L1577.0 782.8L1577.9 782.3L1578.5 783.8L1579.4 784.2L1580.0 784.6L1580.9 782.3L1581.5 776.2L1583.0 763.6L1584.2 752.1L1584.5 751.6L1586.0 741.6L1587.5 734.6L1589.0 724.8L1590.5 723.2L1592.0 725.2L1593.5 724.7L1595.0 724.5L1596.5 723.6L1598.0 722.9L1599.5 721.6L1600.2 721.6L1601.0 726.3L1602.5 734.4L1604.0 741.2L1605.5 748.9L1607.0 757.5L1608.3 762.6L1608.5 763.6L1609.8 772.9L1610.0 771.1L1611.3 762.6L1611.5 760.4L1613.0 755.0L1614.5 746.3L1616.0 738.5L1617.5 729.3L1617.9 728.0L1619.0 727.9L1620.5 729.9L1622.0 732.2L1623.5 731.8L1624.3 732.8L1625.0 734.2L1626.5 737.6L1628.0 742.3L1629.5 743.6L1631.0 749.3L1632.5 750.2L1634.0 755.7L1635.5 758.5L1637.0 761.1L1638.5 762.0L1640.0 764.6L1641.5 765.0L1643.0 766.4L1643.5 768.1L1644.5 768.1L1646.0 768.5L1647.5 770.4L1649.0 770.6L1650.5 771.6L1652.0 773.1L1653.5 773.2L1654.8 772.9L1655.0 773.6L1656.5 772.9L1658.0 771.4L1659.5 769.6L1661.0 767.1L1662.5 766.3L1664.0 765.8L1665.5 764.6L1666.0 763.3L1667.0 766.5L1668.5 769.1L1670.0 771.9L1671.5 773.6L1672.4 776.2L1673.0 784.1L1674.5 801.6L1675.6 816.3L1676.0 828.7L1676.8 852.2L1677.5 856.5L1678.0 861.2L1679.0 853.8L1679.5 852.2L1680.5 848.8L1682.0 841.3L1683.5 832.4L1685.0 824.4L1685.3 824.3L1686.5 826.9L1688.0 828.9L1689.5 829.1L1691.0 833.2L1692.5 835.4L1693.3 835.5L1694.0 847.9L1695.3 870.2L1695.5 871.0L1697.0 881.7L1697.3 885.3L1698.5 876.0L1699.6 870.1L1700.0 862.1L1701.5 835.8L1702.9 809.8L1703.0 810.0L1704.5 805.2L1706.0 803.5L1707.5 797.8L1709.0 795.9L1710.5 791.1L1712.0 787.1L1712.5 787.4L1713.5 785.1L1715.0 784.8L1716.5 781.0L1718.0 778.3L1719.5 777.7L1721.0 775.2L1722.5 773.8L1723.0 772.9L1724.0 773.6L1725.5 774.7L1727.0 776.1L1728.5 775.0L1730.0 776.7L1731.5 775.8L1733.0 776.9L1734.5 777.2L1736.0 780.2L1736.6 779.4L1737.5 782.2L1739.0 788.8L1740.5 794.8L1741.4 797.0L1742.0 796.4L1743.5 795.1L1745.0 794.4L1746.5 794.4L1748.0 793.4L1749.5 791.7L1751.0 792.2L1752.5 809.4L1752.7 810.5L1754.0 815.9L1754.2 816.3L1755.5 812.4L1755.7 810.5L1757.0 802.4L1758.5 791.6L1759.0 787.4L1760.0 797.1L1761.5 809.7L1763.0 822.0L1763.7 828.4L1764.5 834.6L1765.5 840.3L1766.0 838.2L1767.3 828.4L1767.5 825.0L1769.0 809.7L1770.5 794.4L1771.9 781.0L1772.0 780.4L1773.5 774.9L1775.0 767.1L1776.5 761.3L1778.0 753.1L1778.3 752.1L1779.5 756.3L1781.0 760.3L1782.5 766.5L1783.1 768.1L1784.0 766.4L1785.5 764.1L1786.0 765.0" stroke="#ff0000"/>
<path d="M162.5 1021.7L164.0 1021.9L165.5 1022.0L167.0 1022.1L168.5 1022.2L170.0 1022.0L171.5 1022.2L173.0 1021.2L174.5 1021.7L176.0 1022.3L177.5 1021.9L179.0 1022.2L180.5 1021.3L182.0 1021.7L183.5 1021.4L185.0 1021.8L186.5 1021.8L188.0 1021.2L189.5 1021.4L191.0 1021.5L192.5 1022.3L194.0 1022.1L195.5 1021.4L197.0 1022.1L198.5 1021.3L200.0 1021.9L201.5 1021.3L203.0 1021.2L204.5 1022.2L206.0 1021.4L207.5 1021.5L209.0 1022.4L210.5 1022.3L212.0 1021.6L213.5 1022.4L215.0 1021.9L216.5 1022.0L218.0 1021.5L219.5 1022.4L221.0 1022.1L222.5 1022.4L224.0 1022.3L225.5 1021.6L227.0 1021.7L228.5 1021.4L230.0 1021.4L231.5 1021.3L233.0 1021.6L234.5 1022.0L236.0 1021.3L237.5 1022.1L239.0 1021.7L240.5 1021.6L242.0 1022.3L243.5 1021.9L245.0 1021.7L246.5 1021.9L248.0 1022.1L249.5 1021.4L251.0 1022.5L252.5 1021.3L254.0 1022.2L255.5 1022.3L257.0 1021.3L258.5 1022.3L260.0 1021.8L261.5 1022.0L263.0 1021.3L264.5 1021.4L266.0 1021.5L267.5 1022.5L269.0 1021.6L270.5 1022.2L272.0 1022.5L273.5 1022.5L275.0 1021.8L276.5 1021.8L278.0 1022.0L279.5 1022.3L281.0 1021.5L282.5 1022.3L284.0 1022.3L285.5 1022.4L287.0 1021.4L288.5 1022.5L290.0 1021.5L291.5 1021.8L293.0 1022.1L294.5 1022.5L296.0 1021.8L297.5 1022.5L299.0 1022.1L300.0 1022.0L300.5 1021.8L302.0 1021.8L303.5 1021.6L305.0 1021.5L306.5 1021.6L308.0 1022.2L309.5 1022.6L311.0 1021.6L312.5 1021.4L314.0 1022.6L315.5 1022.0L317.0 1021.9L318.5 1021.7L320.0 1022.1L321.5 1022.4L323.0 1021.9L324.5 1021.9L326.0 1021.4L327.5 1022.5L329.0 1021.4L330.5 1021.9L332.0 1022.4L333.5 1021.5L335.0 1022.2L336.5 1022.5L338.0 1022.1L339.5 1022.3L341.0 1021.5L342.5 1021.9L344.0 1021.5L345.5 1022.3L347.0 1021.7L348.5 1021.9L350.0 1022.5L351.5 1022.3L353.0 1022.5L354.5 1021.9L356.0 1021.9L357.5 1022.2L359.0 1021.9L360.5 1021.7L362.0 1021.8L363.5 1021.5L365.0 1021.8L366.5 1022.5L368.0 1022.4L369.5 1022.0L371.0 1021.9L372.5 1021.7L374.0 1021.4L375.5 1021.6L377.0 1022.2L378.5 1022.3L380.0 1021.7L381.5 1022.2L383.0 1022.2L384.5 1022.1L386.0 1022.1L387.5 1022.2L389.0 1021.7L390.5 1022.1L392.0 1021.6L393.5 1021.8L395.0 1022.2L396.5 1022.1L398.0 1021.6L399.5 1022.4L401.0 1022.0L402.5 1021.9L404.0 1021.3L405.5 1021.9L407.0 1021.5L408.5 1022.0L410.0 1021.8L411.5 1022.2L413.0 1022.0L414.5 1022.2L416.0 1021.6L417.5 1022.0L419.0 1022.1L420.5 1022.2L422.0 1021.6L423.5 1022.2L425.0 1022.3L426.5 1022.0L428.0 1022.4L429.5 1022.4L431.0 1021.8L432.5 1021.8L434.0 1021.4L435.5 1022.2L437.0 1022.3L438.5 1021.8L440.0 1022.0L441.5 1022.1L443.0 1022.1L444.5 1021.4L446.0 1022.1L447.5 1021.9L449.0 1022.0L450.5 1021.7L452.0 1021.9L453.5 1022.1L455.0 1021.9L456.5 1022.0L458.0 1021.2L459.5 1021.4L461.0 1021.7L462.5 1021.9L464.0 1021.4L465.5 1022.0L467.0 1021.9L468.5 1021.2L470.0 1021.7L471.5 1021.4L473.0 1021.2L474.5 1021.3L476.0 1021.5L477.5 1021.4L479.0 1021.4L480.5 1021.2L482.0 1021.7L483.5 1021.6L485.0 1021.9L486.5 1021.8L488.0 1021.4L489.5 1022.2L491.0 1021.1L492.5 1021.6L494.0 1021.4L495.5 1021.6L497.0 1021.2L498.5 1022.1L499.2 1021.7L500.0 1021.6L501.5 1021.2L503.0 1021.9L504.5 1021.3L506.0 1021.9L507.5 1021.7L509.0 1022.0L510.5 1022.5L512.0 1022.4L513.5 1021.9L515.0 1022.4L516.5 1022.3L518.0 1022.0L519.5 1021.7L521.0 1022.3L522.5 1022.3L524.0 1022.8L525.5 1022.9L527.0 1022.5L528.5 1022.2L530.0 1022.9L531.5 1021.9L533.0 1022.0L534.5 1022.6L536.0 1022.7L537.5 1022.2L539.0 1022.8L540.5 1023.1L542.0 1022.6L543.5 1022.7L545.0 1022.4L546.5 1022.6L548.0 1023.4L549.5 1022.7L551.0 1023.5L552.5 1023.4L554.0 1023.1L555.5 1022.7L557.0 1023.6L558.5 1023.1L560.0 1023.0L561.5 1022.9L563.0 1023.8L564.5 1023.2L566.0 1023.0L567.4 1023.3L567.5 1023.3L569.0 1022.8L570.5 1023.3L572.0 1023.0L573.5 1022.7L575.0 1023.3L576.5 1023.2L578.0 1022.2L579.5 1022.7L581.0 1022.3L582.5 1023.1L584.0 1022.8L585.5 1022.1L587.0 1022.0L588.5 1021.8L590.0 1022.7L591.5 1021.8L593.0 1022.1L594.5 1021.9L596.0 1022.0L597.5 1021.9L599.0 1022.0L599.2 1021.7L600.5 1021.3L602.0 1022.2L603.5 1021.7L605.0 1022.1L606.5 1022.0L608.0 1022.0L609.5 1022.4L611.0 1022.4L612.5 1022.4L614.0 1022.9L615.5 1022.8L617.0 1022.3L618.5 1022.6L620.0 1023.0L621.5 1023.6L623.0 1023.7L624.5 1023.4L626.0 1022.8L627.5 1023.8L629.0 1023.5L630.5 1023.8L632.0 1024.0L633.5 1024.0L635.0 1023.9L636.5 1024.5L638.0 1024.0L639.5 1024.1L641.0 1024.8L642.5 1024.1L644.0 1024.3L645.5 1025.0L647.0 1024.2L648.5 1025.2L649.9 1024.9L650.0 1025.2L651.5 1025.5L653.0 1026.0L654.5 1027.3L656.0 1028.1L657.5 1027.9L659.0 1029.0L660.5 1029.7L662.0 1030.3L662.6 1030.6L663.5 1030.1L665.0 1029.4L666.5 1029.5L668.0 1029.2L669.5 1027.9L671.0 1027.6L672.5 1027.8L674.0 1027.3L675.5 1026.7L677.0 1025.4L678.5 1025.5L680.0 1025.6L681.5 1025.8L683.0 1025.7L684.5 1025.2L686.0 1024.3L687.5 1025.1L689.0 1024.2L690.5 1024.6L692.0 1024.8L693.5 1024.4L695.0 1023.6L696.5 1023.6L698.0 1024.2L699.5 1023.2L701.0 1023.6L702.5 1023.2L704.0 1022.8L705.5 1023.2L707.0 1022.3L708.5 1022.3L710.0 1022.5L711.5 1022.0L713.0 1021.8L714.5 1022.3L716.0 1022.4L717.5 1022.4L719.0 1021.4L720.0 1021.7L720.5 1021.6L722.0 1021.4L723.5 1021.7L725.0 1021.5L726.5 1022.0L728.0 1021.3L729.5 1020.9L731.0 1021.6L732.5 1020.9L734.0 1021.4L735.5 1021.2L737.0 1021.7L738.5 1021.2L740.0 1021.2L741.5 1020.7L743.0 1021.0L744.5 1020.6L746.0 1021.2L747.5 1020.9L749.0 1020.3L750.5 1020.4L752.0 1020.5L753.5 1020.9L755.0 1020.2L756.5 1020.8L758.0 1020.7L759.5 1020.0L761.0 1020.6L762.5 1019.9L764.0 1019.9L765.5 1020.4L767.0 1019.9L768.5 1020.6L770.0 1020.1L771.5 1019.9L773.0 1020.4L774.5 1019.4L776.0 1020.2L777.5 1019.4L779.0 1019.4L780.5 1020.3L782.0 1020.0L783.5 1019.4L785.0 1019.2L786.5 1020.2L788.0 1019.8L789.5 1019.9L791.0 1019.0L792.5 1019.6L794.0 1019.2L795.5 1019.0L797.0 1019.1L798.5 1019.4L799.3 1019.2L800.0 1019.0L801.5 1019.0L803.0 1018.7L804.5 1019.5L806.0 1019.3L807.5 1019.5L809.0 1019.0L810.5 1019.5L812.0 1019.0L813.5 1019.1L815.0 1019.1L816.5 1019.2L818.0 1018.8L819.5 1018.4L821.0 1018.3L822.5 1018.5L824.0 1018.3L825.5 1019.3L827.0 1018.8L828.5 1019.1L830.0 1018.2L831.5 1018.7L833.0 1019.2L834.5 1018.9L836.0 1018.6L837.5 1018.6L839.0 1018.2L840.5 1018.2L842.0 1018.2L843.5 1018.4L845.0 1018.4L846.5 1019.0L848.0 1018.1L849.5 1018.2L851.0 1018.2L852.5 1018.1L854.0 1018.2L855.5 1018.1L857.0 1018.4L858.5 1017.8L860.0 1018.9L861.5 1018.2L863.0 1018.8L864.5 1018.5L866.0 1018.5L867.5 1018.2L869.0 1018.8L870.5 1017.8L872.0 1018.4L873.5 1017.9L875.0 1018.4L876.5 1018.4L878.0 1017.7L879.5 1017.7L881.0 1017.5L882.5 1017.7L884.0 1017.5L885.5 1017.9L887.0 1018.6L888.5 1017.8L890.0 1017.7L891.5 1017.9L893.0 1017.6L894.5 1018.2L896.0 1018.1L897.5 1017.4L899.0 1017.5L900.5 1018.0L902.0 1018.3L903.5 1017.9L905.0 1017.7L906.5 1018.3L908.0 1017.1L909.5 1017.1L911.0 1018.0L912.5 1017.5L914.0 1017.1L915.5 1017.6L917.0 1018.2L918.5 1017.6L920.0 1017.3L921.5 1017.0L923.0 1017.0L924.5 1017.9L926.0 1017.4L927.5 1017.9L929.0 1016.9L930.5 1017.1L932.0 1016.8L933.5 1017.2L935.0 1016.8L936.5 1017.0L938.0 1017.2L939.5 1017.0L941.0 1016.7L942.5 1016.7L944.0 1017.8L945.5 1016.8L947.0 1017.2L948.5 1017.0L950.0 1017.1L951.5 1016.6L953.0 1016.8L954.5 1016.6L956.0 1017.1L957.5 1017.5L958.0 1017.0L959.0 1017.1L960.5 1017.4L962.0 1016.7L963.5 1016.4L965.0 1017.0L966.5 1017.0L968.0 1017.1L969.5 1016.9L971.0 1017.2L972.5 1017.3L974.0 1017.5L975.5 1016.8L977.0 1016.9L978.5 1017.4L980.0 1016.7L981.5 1016.5L983.0 1016.8L984.5 1016.5L986.0 1017.3L987.5 1017.4L989.0 1016.8L990.0 1019.0L991.2 1017.4L992.5 1018.8L993.8 1017.2L995.0 1019.1L996.2 1017.1L997.5 1018.9L998.8 1017.4L1000.0 1019.0L1001.2 1017.0L1002.5 1018.9L1003.8 1017.0L1005.0 1018.9L1006.2 1017.2L1007.5 1018.5L1008.8 1017.2L1010.0 1019.1L1011.2 1017.1L1012.5 1019.1L1013.8 1019.1L1015.0 1017.4L1016.2 1017.5L1017.5 1019.0L1018.8 1017.2L1020.0 1017.3L1021.2 1019.0L1022.5 1017.2L1023.8 1018.5L1025.0 1015.1L1026.2 1016.6L1027.5 1013.3L1029.0 1016.4L1029.8 1010.3L1031.2 1011.4L1032.5 1010.8L1033.8 1015.9L1035.0 1011.4L1036.2 1011.1L1037.5 1011.6L1038.8 1014.8L1040.0 1010.9L1041.2 1014.7L1042.5 1015.7L1043.8 1014.7L1044.7 1016.4L1045.5 1010.3L1046.2 1016.3L1047.5 1012.5L1048.8 1013.3L1050.0 1017.9L1051.2 1014.5L1052.5 1018.8L1053.8 1019.4L1055.0 1015.1L1056.2 1016.5L1056.5 1021.0L1057.5 1015.6L1058.8 1019.2L1060.0 1020.2L1061.2 1020.1L1062.5 1016.6L1063.8 1020.4L1065.0 1016.8L1066.2 1019.1L1067.5 1016.0L1068.8 1019.2L1070.0 1016.1L1071.2 1019.4L1072.5 1015.7L1073.8 1019.0L1075.0 1016.0L1076.2 1016.0L1077.5 1018.9L1078.8 1019.2L1080.0 1016.5L1081.2 1018.6L1082.5 1018.5L1083.8 1016.0L1085.0 1016.6L1086.2 1016.4L1087.5 1019.2L1088.8 1019.3L1090.0 1016.0L1091.2 1019.5L1092.5 1016.8L1093.8 1019.4L1095.0 1017.2L1096.2 1019.6L1097.5 1019.2L1098.8 1017.2L1100.0 1016.7L1101.2 1017.0L1102.5 1020.1L1103.8 1017.8L1105.0 1020.1L1106.2 1017.2L1107.5 1016.9L1107.8 1021.0L1108.7 1016.9L1110.0 1019.4L1111.2 1016.4L1112.5 1015.0L1113.8 1018.3L1115.0 1013.1L1116.2 1017.3L1117.5 1011.8L1118.2 1017.8L1119.2 1011.0L1120.0 1017.1L1121.2 1017.8L1122.5 1014.2L1123.8 1013.7L1125.0 1019.4L1126.2 1014.6L1127.5 1019.9L1128.8 1015.6L1130.0 1021.0L1131.0 1015.6L1131.2 1019.7L1132.5 1015.6L1133.8 1019.9L1135.0 1015.9L1136.2 1018.5L1137.5 1014.6L1138.8 1017.9L1140.0 1014.4L1141.2 1016.8L1142.5 1013.9L1143.8 1016.3L1145.0 1013.5L1146.2 1015.3L1147.5 1015.1L1148.8 1013.4L1150.0 1013.7L1151.2 1015.3L1152.5 1015.3L1153.8 1013.8L1155.0 1015.4L1156.2 1015.9L1157.5 1016.3L1158.8 1014.5L1160.0 1016.4L1161.2 1015.0L1162.5 1016.9L1163.8 1016.8L1165.0 1015.9L1166.2 1015.5L1167.5 1016.2L1168.8 1017.7L1170.0 1016.3L1171.2 1016.1L1172.5 1018.3L1173.8 1016.7L1175.0 1018.3L1176.2 1017.4L1177.5 1018.9L1178.8 1016.8L1180.0 1018.1L1181.2 1016.2L1182.5 1017.7L1183.8 1015.4L1185.0 1016.7L1186.2 1016.2L1187.5 1014.8L1188.8 1014.4L1190.0 1015.5L1191.2 1015.5L1192.5 1014.2L1193.8 1013.7L1195.0 1015.7L1196.2 1013.7L1197.5 1013.8L1198.8 1015.7L1200.0 1015.4L1201.2 1013.9L1202.5 1015.5L1203.8 1014.0L1205.0 1015.5L1206.2 1013.7L1207.5 1015.3L1208.8 1015.8L1210.0 1014.0L1211.2 1015.5L1212.5 1014.2L1213.8 1015.7L1215.0 1013.7L1216.2 1015.7L1217.5 1015.8L1218.8 1015.5L1220.0 1013.8L1221.2 1013.7L1222.5 1015.3L1223.8 1014.0L1225.0 1015.7L1226.2 1013.8L1227.5 1013.9L1228.8 1015.6L1230.0 1014.1L1230.5 1013.2L1232.0 1013.1L1233.5 1013.3L1235.0 1013.1L1236.5 1013.4L1238.0 1013.6L1239.5 1013.1L1241.0 1012.9L1242.5 1013.6L1244.0 1012.8L1245.5 1012.9L1247.0 1013.0L1248.5 1013.1L1250.0 1012.7L1251.5 1013.1L1253.0 1012.9L1254.5 1013.4L1256.0 1013.1L1257.5 1013.5L1259.0 1013.2L1260.5 1013.2L1262.0 1013.0L1263.5 1012.8L1265.0 1013.2L1265.7 1012.8L1266.5 1013.0L1268.0 1013.3L1269.5 1013.0L1271.0 1012.9L1272.5 1012.4L1274.0 1013.0L1275.5 1012.5L1277.0 1012.1L1278.5 1012.0L1280.0 1012.5L1281.5 1012.7L1283.0 1013.8L1284.5 1015.7L1284.7 1015.4L1286.0 1015.9L1287.5 1016.4L1289.0 1019.1L1290.5 1019.7L1290.7 1019.7L1292.0 1024.1L1293.5 1030.5L1295.0 1037.0L1296.5 1043.9L1297.9 1050.1L1298.0 1051.2L1299.5 1056.4L1301.0 1060.6L1302.5 1064.7L1304.0 1070.1L1304.4 1071.6L1305.5 1075.3L1305.9 1077.0L1307.0 1072.7L1307.4 1071.6L1308.5 1067.6L1310.0 1064.7L1311.5 1061.2L1313.0 1056.9L1314.0 1053.7L1314.5 1051.8L1316.0 1049.5L1317.5 1045.6L1319.0 1043.6L1320.5 1039.9L1322.0 1037.8L1322.9 1034.9L1323.5 1037.0L1325.0 1039.1L1326.5 1043.2L1328.0 1048.1L1329.2 1050.1L1329.5 1057.7L1331.0 1095.9L1331.5 1108.8L1332.5 1115.4L1333.7 1123.5L1334.0 1122.1L1335.5 1112.5L1335.9 1108.8L1337.0 1090.0L1338.5 1065.1L1339.1 1053.7L1340.0 1049.6L1341.5 1041.5L1343.0 1035.9L1344.4 1028.6L1344.5 1028.4L1346.0 1026.6L1347.5 1027.7L1349.0 1024.7L1350.5 1024.9L1352.0 1023.7L1353.5 1023.7L1355.0 1021.6L1356.5 1020.3L1357.0 1020.6L1358.0 1021.0L1359.5 1022.2L1361.0 1024.3L1362.5 1025.2L1364.0 1027.4L1365.5 1027.7L1365.9 1028.6L1367.0 1041.4L1368.5 1059.1L1369.5 1071.6L1370.0 1075.2L1371.5 1082.4L1373.0 1090.0L1374.5 1097.1L1376.0 1104.2L1376.6 1107.4L1377.5 1141.3L1378.4 1176.8L1379.0 1184.8L1380.2 1198.6L1380.5 1194.9L1382.0 1176.8L1383.5 1103.0L1383.8 1089.5L1385.0 1081.0L1386.5 1071.1L1388.0 1062.8L1389.5 1053.5L1391.0 1042.9L1392.5 1041.0L1394.0 1041.1L1395.5 1038.9L1397.0 1038.5L1398.5 1037.7L1400.0 1035.9L1401.5 1035.1L1403.0 1033.0L1404.5 1031.0L1406.0 1030.9L1407.5 1029.8L1408.8 1028.6L1409.0 1028.5L1410.5 1033.7L1412.0 1038.3L1413.5 1042.4L1415.0 1047.7L1416.3 1052.3L1416.5 1052.4L1417.8 1055.5L1418.0 1055.0L1419.3 1052.3L1419.5 1052.6L1421.0 1051.5L1422.5 1052.4L1424.0 1051.6L1425.5 1051.4L1426.7 1050.1L1427.0 1049.4L1428.5 1043.8L1430.0 1037.9L1431.5 1032.9L1433.0 1026.3L1433.9 1023.3L1434.5 1023.9L1436.0 1025.2L1437.5 1026.0L1439.0 1026.6L1440.5 1027.2L1441.1 1028.6L1442.0 1026.6L1443.5 1025.4L1445.0 1024.1L1446.5 1022.7L1448.0 1020.8L1449.5 1018.1L1450.0 1017.9L1451.0 1022.2L1452.5 1025.7L1454.0 1031.6L1455.4 1035.8L1455.5 1036.6L1457.0 1063.6L1457.5 1071.6L1458.5 1077.9L1459.0 1080.5L1460.0 1075.5L1460.5 1071.6L1461.5 1069.6L1463.0 1064.8L1464.5 1060.8L1466.0 1056.3L1466.1 1055.5L1467.5 1060.5L1469.0 1064.6L1470.5 1070.3L1472.0 1076.2L1472.7 1077.7L1473.5 1082.5L1474.2 1087.7L1475.0 1083.4L1475.7 1077.7L1476.5 1073.5L1478.0 1065.0L1479.5 1056.0L1481.0 1048.7L1482.5 1040.1L1483.1 1037.6L1484.0 1040.6L1485.5 1045.6L1487.0 1050.1L1488.5 1053.7L1490.0 1093.7L1491.2 1125.3L1491.5 1135.5L1493.0 1186.9L1494.5 1240.2L1494.8 1248.4L1496.0 1259.4L1497.5 1272.7L1498.3 1279.2L1499.0 1272.9L1500.5 1261.2L1501.9 1248.4L1502.0 1244.9L1503.5 1201.2L1505.0 1157.3L1505.5 1143.2L1506.5 1129.5L1508.0 1109.3L1509.5 1086.8L1510.9 1068.0L1511.0 1067.9L1512.5 1062.9L1514.0 1056.4L1515.5 1050.8L1517.0 1046.6L1518.0 1042.9L1518.5 1043.7L1520.0 1043.1L1521.5 1041.9L1523.0 1039.6L1524.5 1036.9L1524.8 1036.7L1526.0 1042.2L1527.5 1049.4L1529.0 1057.3L1529.6 1059.2L1530.5 1081.0L1532.0 1118.1L1532.1 1120.8L1533.5 1130.4L1534.4 1136.2L1535.0 1133.2L1536.5 1121.5L1536.7 1120.8L1538.0 1108.7L1539.5 1096.0L1540.9 1084.8L1541.0 1092.9L1542.5 1212.6L1544.0 1245.0L1544.1 1246.9L1545.5 1226.2L1546.5 1212.6L1547.0 1183.3L1548.5 1098.3L1548.9 1075.2L1550.0 1069.2L1551.5 1060.6L1553.0 1052.0L1554.5 1041.8L1556.0 1034.0L1556.1 1033.5L1557.5 1040.7L1559.0 1047.8L1560.5 1053.3L1561.7 1059.2L1562.0 1074.8L1563.5 1148.4L1563.7 1158.0L1565.0 1175.0L1565.7 1182.7L1566.5 1175.0L1568.0 1162.8L1568.5 1158.0L1569.5 1125.7L1571.0 1075.4L1571.3 1065.6L1572.5 1060.4L1574.0 1055.2L1575.5 1049.7L1576.2 1047.9L1577.0 1046.4L1578.5 1045.4L1580.0 1045.3L1581.5 1043.1L1582.6 1043.1L1583.0 1042.6L1584.5 1038.6L1586.0 1034.7L1587.4 1030.3L1587.5 1030.9L1589.0 1030.0L1590.5 1029.7L1592.0 1029.0L1593.5 1027.5L1595.0 1027.5L1596.5 1024.9L1597.0 1025.5L1598.0 1024.8L1599.5 1025.0L1601.0 1025.7L1602.5 1026.3L1604.0 1026.8L1605.0 1027.1L1605.5 1037.2L1607.0 1066.5L1607.8 1081.0L1608.5 1084.9L1609.8 1094.5L1610.0 1093.0L1611.5 1083.3L1611.8 1081.0L1613.0 1068.7L1614.5 1052.7L1616.0 1038.4L1616.3 1035.1L1617.5 1032.1L1619.0 1029.4L1620.5 1025.6L1622.0 1023.3L1622.7 1020.7L1623.5 1021.7L1625.0 1019.8L1626.5 1021.3L1628.0 1021.2L1629.5 1020.3L1631.0 1019.9L1632.5 1020.7L1634.0 1020.4L1635.5 1021.2L1637.0 1021.6L1638.5 1020.4L1640.0 1020.2L1641.5 1020.7L1643.0 1021.1L1644.5 1021.3L1645.1 1020.7L1646.0 1019.7L1647.5 1017.1L1649.0 1015.2L1650.0 1014.3L1650.5 1015.1L1652.0 1014.5L1653.5 1013.6L1655.0 1014.5L1656.5 1014.2L1658.0 1015.3L1659.5 1014.1L1661.0 1014.6L1662.5 1014.4L1664.0 1015.3L1665.5 1016.6L1667.0 1015.7L1668.5 1015.5L1670.0 1016.8L1670.8 1015.9L1671.5 1026.9L1672.4 1043.1L1673.0 1054.4L1674.5 1084.5L1675.6 1105.9L1676.0 1107.3L1677.5 1119.0L1678.0 1121.7L1679.0 1114.7L1680.4 1106.0L1680.5 1103.4L1682.0 1088.2L1683.5 1073.0L1683.6 1072.0L1685.0 1074.5L1686.5 1077.8L1688.0 1079.8L1689.5 1083.2L1690.0 1084.8L1691.0 1092.9L1692.5 1102.2L1694.0 1112.8L1694.6 1117.3L1695.5 1122.2L1696.5 1129.8L1697.0 1126.0L1698.4 1117.2L1698.5 1116.2L1700.0 1089.9L1701.3 1067.2L1701.5 1066.2L1703.0 1057.7L1704.5 1050.9L1706.0 1044.2L1706.1 1043.1L1707.5 1040.2L1709.0 1037.5L1710.5 1035.2L1712.0 1031.6L1712.5 1030.3L1713.5 1029.2L1715.0 1025.9L1716.5 1023.8L1718.0 1023.4L1719.5 1020.5L1721.0 1019.5L1722.5 1017.3L1723.0 1015.9L1724.0 1017.5L1725.5 1017.4L1727.0 1019.8L1728.5 1020.3L1730.0 1021.7L1731.5 1021.1L1733.0 1023.6L1734.5 1023.8L1736.0 1026.1L1736.6 1025.5L1737.5 1031.9L1739.0 1039.1L1739.9 1045.0L1740.5 1046.0L1741.4 1047.9L1742.0 1046.2L1742.9 1045.0L1743.5 1044.8L1745.0 1044.1L1746.5 1044.5L1748.0 1043.0L1749.5 1042.7L1751.0 1043.1L1752.5 1055.7L1754.0 1067.5L1754.3 1071.0L1755.5 1076.7L1755.8 1078.4L1757.0 1073.4L1757.3 1071.0L1758.5 1061.1L1760.0 1046.2L1760.6 1041.5L1761.5 1056.6L1763.0 1085.4L1763.5 1094.2L1764.5 1101.6L1765.5 1107.3L1766.0 1104.2L1767.5 1094.2L1767.5 1093.0L1769.0 1073.0L1770.3 1056.0L1770.5 1056.4L1772.0 1052.7L1773.5 1046.9L1775.0 1043.5L1776.5 1040.2L1776.7 1039.9L1778.0 1037.4L1779.5 1036.3L1781.0 1033.2L1782.5 1031.8L1783.1 1030.3L1784.0 1029.4L1785.5 1030.1L1786.0 1030.0" stroke="#000000"/>
</g>
<rect x="181" y="940" width="314" height="391" fill="#ffffff"/>
<g fill="none" stroke-width="2.7" stroke-linecap="square">
<line x1="180.4" y1="939.4" x2="494.25" y2="939.4" stroke="#e2e2e2"/>
<line x1="180.4" y1="939.4" x2="180.4" y2="1329.6" stroke="#b5b5b5"/>
<line x1="494.25" y1="939.4" x2="494.25" y2="1329.6" stroke="#b5b5b5"/>
<line x1="180.4" y1="1329.6" x2="494.25" y2="1329.6" stroke="#b8b8b8"/>
</g>
<rect x="182.9" y="942.45" width="313.9" height="389.8" fill="none" stroke="#4d4d4d" stroke-width="2.6"/>
<g stroke-width="6" fill="none">
<line x1="186" y1="985.2" x2="330.5" y2="985.2" stroke="#000000"/>
<line x1="186" y1="1060.8" x2="330.5" y2="1060.8" stroke="#ff0000"/>
<line x1="186" y1="1136.4" x2="330.5" y2="1136.4" stroke="#0000ff"/>
<line x1="186" y1="1212.0" x2="330.5" y2="1212.0" stroke="#ff00ff"/>
<line x1="186" y1="1287.6" x2="330.5" y2="1287.6" stroke="#008000"/>
</g>
<g font-family="'Liberation Sans', Arial, Helvetica, sans-serif" fill="#000" stroke="#ffffff" stroke-width="0.9">
<text x="341.31" y="1003.00" font-size="66" textLength="40.60" lengthAdjust="spacingAndGlyphs">P</text>
<text x="343.38" y="1079.00" font-size="66" textLength="135.35" lengthAdjust="spacingAndGlyphs">GP-1</text>
<text x="343.11" y="1156.60" font-size="66" textLength="143.27" lengthAdjust="spacingAndGlyphs">GP-2</text>
<text x="341.64" y="1231.40" font-size="66" textLength="126.81" lengthAdjust="spacingAndGlyphs">ZP-1</text>
<text x="341.52" y="1306.80" font-size="66" textLength="135.43" lengthAdjust="spacingAndGlyphs">ZP-2</text>
</g>
<g stroke="#141414" stroke-width="4.5" fill="none">
<line x1="162.5" y1="1348.6" x2="162.5" y2="1376"/>
<line x1="283.5" y1="1348.6" x2="283.5" y2="1365"/>
<line x1="404.5" y1="1348.6" x2="404.5" y2="1376"/>
<line x1="525.4" y1="1348.6" x2="525.4" y2="1365"/>
<line x1="646.4" y1="1348.6" x2="646.4" y2="1376"/>
<line x1="767.4" y1="1348.6" x2="767.4" y2="1365"/>
<line x1="888.4" y1="1348.6" x2="888.4" y2="1376"/>
<line x1="1009.4" y1="1348.6" x2="1009.4" y2="1365"/>
<line x1="1130.4" y1="1348.6" x2="1130.4" y2="1376"/>
<line x1="1251.3" y1="1348.6" x2="1251.3" y2="1365"/>
<line x1="1372.3" y1="1348.6" x2="1372.3" y2="1376"/>
<line x1="1493.3" y1="1348.6" x2="1493.3" y2="1365"/>
<line x1="1614.3" y1="1348.6" x2="1614.3" y2="1376"/>
<line x1="1735.3" y1="1348.6" x2="1735.3" y2="1365"/>
</g>
<g fill="none" stroke-linecap="square">
<line x1="162.5" y1="41.75" x2="1786.5" y2="41.75" stroke="#262626" stroke-width="5.2"/>
<line x1="162.5" y1="41.75" x2="162.5" y2="1348.6" stroke="#262626" stroke-width="5"/>
<line x1="1786.5" y1="41.75" x2="1786.5" y2="1348.6" stroke="#181818" stroke-width="5"/>
<line x1="162.5" y1="1348.6" x2="1786.5" y2="1348.6" stroke="#141414" stroke-width="4.0"/>
</g>
<g font-family="'Liberation Sans', Arial, Helvetica, sans-serif" font-size="68.5" fill="#000" stroke="#fdfdfd" stroke-width="0.9" text-anchor="middle">
<text x="162.5" y="1445">4000</text>
<text x="404.5" y="1445">3500</text>
<text x="646.4" y="1445">3000</text>
<text x="888.4" y="1445">2500</text>
<text x="1130.4" y="1445">2000</text>
<text x="1372.3" y="1445">1500</text>
<text x="1614.3" y="1445">1000</text>
</g>
<g font-family="'Liberation Sans', Arial, Helvetica, sans-serif" fill="#000" stroke="#fdfdfd" stroke-width="1.0">
<text x="651.68" y="1571.00" font-size="78" textLength="581.18" lengthAdjust="spacingAndGlyphs">Wavenumber (cm</text>
<text x="1230.80" y="1538.70" font-size="56" textLength="19.32" lengthAdjust="spacingAndGlyphs">–</text>
<text x="1250.61" y="1534.50" font-size="49" textLength="17.41" lengthAdjust="spacingAndGlyphs">1</text>
<text x="1277.29" y="1571.00" font-size="78" textLength="23.49" lengthAdjust="spacingAndGlyphs">)</text>
<text transform="translate(96.8,899.00) rotate(-90)" x="-6.88" y="0" font-size="78" textLength="472.51" lengthAdjust="spacingAndGlyphs">Intensity (a.u.)</text>
</g>
</g>
</svg>
</body></html>
